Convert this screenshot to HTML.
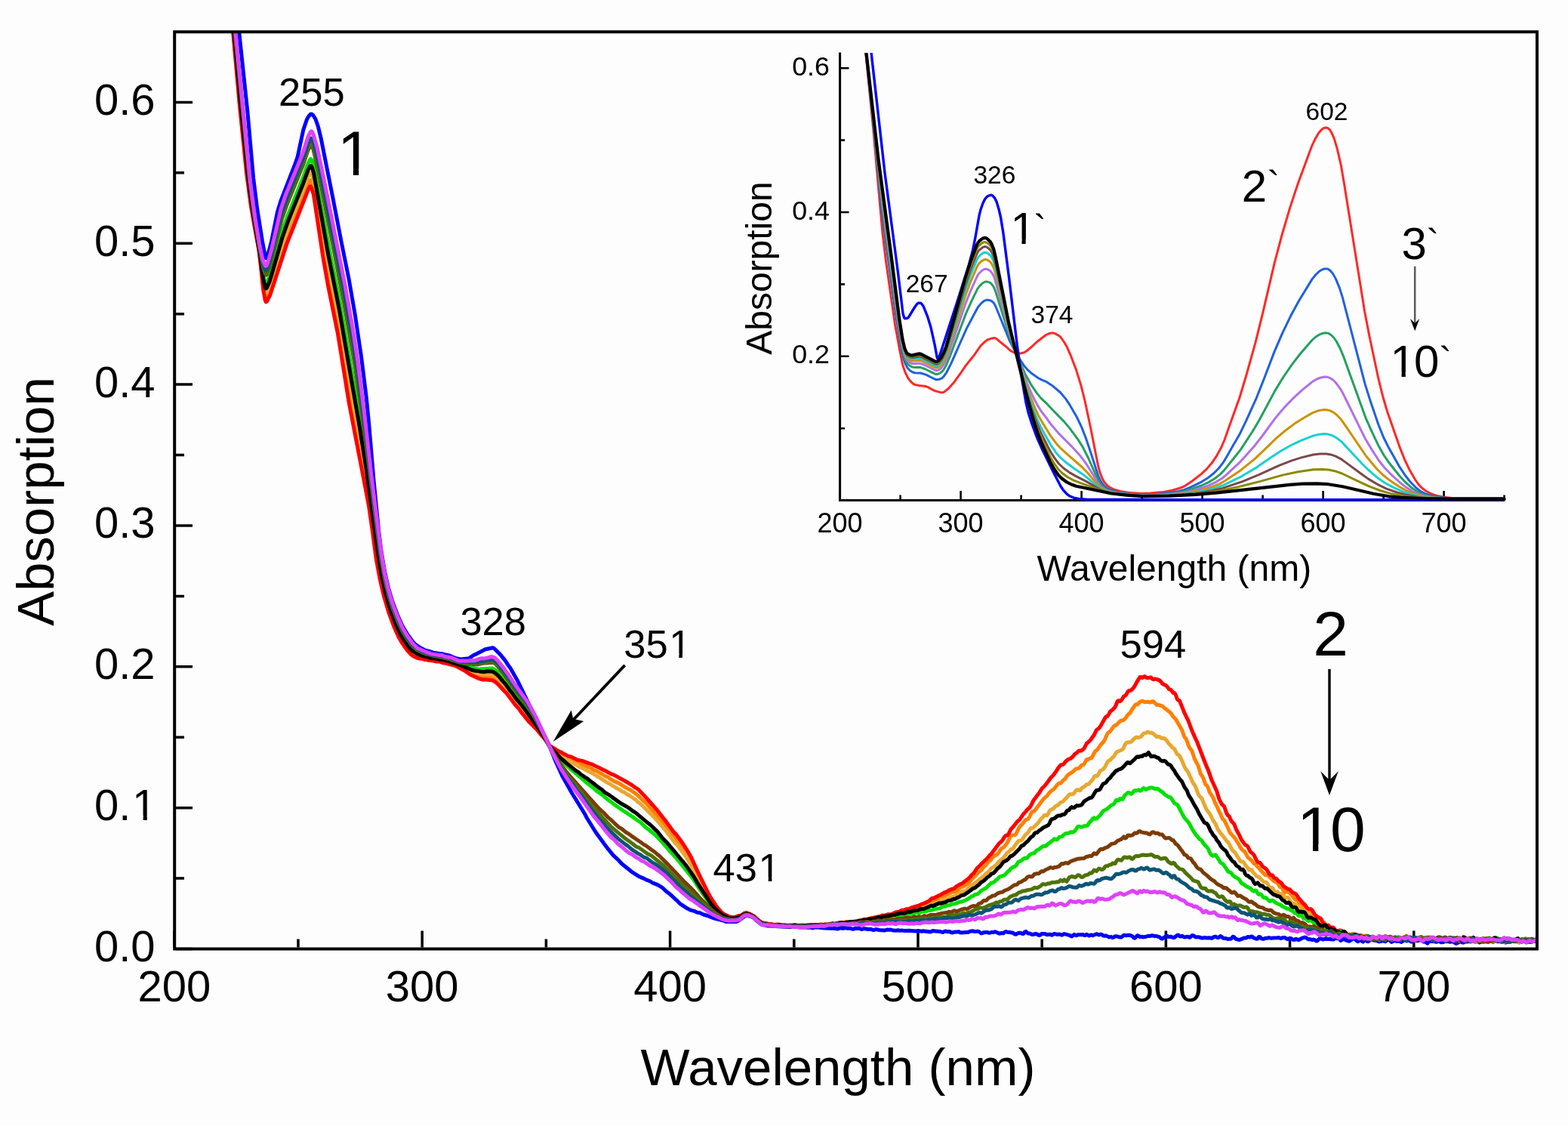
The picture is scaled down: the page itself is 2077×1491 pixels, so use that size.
<!DOCTYPE html>
<html><head><meta charset="utf-8"><title>Absorption spectra</title>
<style>
html,body{margin:0;padding:0;background:#fdfdfd;}
svg{display:block;}
text{font-family:"Liberation Sans",Arial,sans-serif;fill:#000;}
</style></head><body>
<svg width="2077" height="1491" viewBox="0 0 2077 1491">
<rect x="0" y="0" width="2077" height="1491" fill="#fdfdfd"/>
<defs><clipPath id="cm"><rect x="233" y="44" width="1801" height="1211"/></clipPath><clipPath id="ci"><rect x="1113" y="70" width="900" height="620"/></clipPath></defs>
<g stroke="#000" fill="none">
<path stroke-width="3.5" d="M233 1256.5H255.0M233 1163.1H244.0M233 1069.7H255.0M233 976.2H244.0M233 882.8H255.0M233 789.4H244.0M233 695.9H255.0M233 602.5H244.0M233 509.1H255.0M233 415.7H244.0M233 322.2H255.0M233 228.8H244.0M233 135.4H255.0M230.8 1254.5V1232.5M395.0 1254.5V1243.5M559.2 1254.5V1232.5M723.4 1254.5V1243.5M887.6 1254.5V1232.5M1051.8 1254.5V1243.5M1216.0 1254.5V1232.5M1380.2 1254.5V1243.5M1544.4 1254.5V1232.5M1708.6 1254.5V1243.5M1872.8 1254.5V1232.5"/>
</g>
<g clip-path="url(#cm)" fill="none" stroke-width="5" stroke-linejoin="round" stroke-linecap="round">
<path stroke="#0000ff" d="M293.2 -269.2L300.4 -140.4L306.3 -64.5L317.2 47.2L328.0 149.3L335.6 235.7L340.8 277.5L347.4 318.9L351.3 340.0L352.3 341.9L353.3 341.0L356.2 332.6L359.5 320.0L367.4 281.1L372.3 265.1L390.7 217.7L394.0 208.4L401.9 171.6L406.5 158.0L409.1 153.7L411.4 151.2L412.7 150.9L414.7 152.5L418.0 157.8L421.6 168.3L425.2 183.3L432.8 221.5L441.0 262.5L452.5 322.1L462.3 370.6L470.5 418.0L478.7 473.5L485.3 526.6L488.6 560.4L495.2 638.0L501.7 703.5L505.0 730.0L509.9 758.4L514.9 780.0L519.8 796.4L526.4 813.9L532.9 828.5L539.5 839.6L546.1 848.8L549.3 852.4L555.9 857.2L562.5 860.8L570.7 863.0L574.0 864.2L580.5 865.3L582.2 865.7L585.5 865.5L588.8 866.6L595.3 868.0L598.6 869.6L605.2 872.0L610.1 873.0L620.0 872.1L621.6 871.5L626.5 868.1L631.4 865.7L642.9 859.7L652.8 857.7L654.4 858.5L662.6 866.6L669.2 874.7L672.5 879.9L675.8 884.3L685.6 901.5L695.5 921.8L723.4 978.9L726.7 985.1L734.9 1005.6L744.7 1027.3L757.9 1050.7L774.3 1077.2L777.6 1083.5L789.1 1102.0L800.6 1117.8L805.5 1124.2L812.1 1132.3L818.6 1138.3L823.6 1143.7L836.7 1154.3L846.5 1160.7L853.1 1163.3L856.4 1165.2L861.3 1167.0L864.6 1169.1L871.2 1171.7L877.7 1175.7L882.7 1180.4L887.6 1184.1L894.2 1190.3L897.5 1193.2L900.7 1196.6L910.6 1203.1L915.5 1205.4L920.4 1206.7L923.7 1208.2L927.0 1208.8L931.9 1211.0L936.9 1212.5L945.1 1215.8L953.3 1217.8L958.2 1219.0L961.5 1220.4L966.4 1220.2L969.7 1220.5L973.0 1220.3L974.6 1220.4L976.3 1220.2L979.6 1218.3L987.8 1212.2L989.4 1212.1L994.3 1213.7L996.0 1213.8L997.6 1214.7L1002.5 1219.3L1007.5 1223.4L1009.1 1224.2L1015.7 1225.6L1017.3 1226.0L1020.6 1225.9L1030.5 1226.8L1035.4 1226.9L1040.3 1227.3L1046.9 1227.5L1053.4 1227.2L1060.0 1228.1L1064.9 1227.8L1069.9 1228.3L1073.1 1227.9L1076.4 1228.9L1079.7 1227.8L1087.9 1228.5L1092.8 1229.0L1099.4 1229.2L1102.7 1229.0L1109.3 1230.0L1112.6 1229.1L1114.2 1228.9L1115.8 1229.3L1117.5 1229.3L1119.1 1228.7L1120.8 1228.8L1122.4 1229.3L1125.7 1229.0L1129.0 1230.2L1130.6 1230.2L1133.9 1229.1L1135.5 1229.4L1138.8 1229.5L1140.5 1230.4L1142.1 1230.4L1143.8 1229.8L1145.4 1229.7L1150.3 1230.5L1153.6 1230.2L1156.9 1231.6L1160.2 1230.5L1165.1 1231.5L1171.7 1232.1L1175.0 1231.0L1178.2 1231.2L1179.9 1231.0L1183.2 1232.1L1186.4 1232.2L1189.7 1231.7L1191.4 1232.3L1194.7 1231.9L1197.9 1232.6L1204.5 1232.2L1212.7 1233.0L1216.0 1232.6L1220.9 1233.2L1222.6 1232.8L1232.4 1234.0L1235.7 1232.6L1239.0 1232.9L1245.6 1233.5L1248.8 1234.6L1252.1 1233.0L1255.4 1233.7L1257.0 1233.5L1258.7 1233.8L1260.3 1234.8L1262.0 1234.9L1263.6 1234.2L1270.2 1233.8L1271.8 1234.7L1273.5 1235.1L1280.0 1234.5L1281.7 1234.6L1285.0 1233.2L1288.2 1232.8L1291.5 1233.6L1294.8 1233.1L1296.5 1233.4L1299.7 1235.9L1301.4 1235.6L1303.0 1234.7L1306.3 1234.4L1308.0 1234.5L1309.6 1235.3L1311.2 1235.2L1312.9 1234.5L1316.2 1234.5L1317.8 1233.8L1319.4 1234.2L1322.7 1235.8L1324.4 1236.2L1326.0 1235.6L1329.3 1235.8L1330.9 1234.3L1332.6 1233.5L1334.2 1234.2L1337.5 1234.4L1339.1 1234.9L1340.8 1234.9L1342.4 1235.6L1344.1 1237.0L1345.7 1237.2L1349.0 1235.4L1350.6 1235.2L1352.3 1235.5L1353.9 1236.5L1355.6 1236.5L1357.2 1234.2L1358.9 1233.4L1360.5 1235.1L1362.1 1235.9L1363.8 1236.0L1367.1 1237.6L1368.7 1237.5L1370.3 1236.7L1372.0 1236.4L1376.9 1238.6L1380.2 1236.4L1383.5 1236.4L1386.8 1237.7L1390.1 1237.2L1391.7 1237.5L1393.3 1238.3L1396.6 1236.4L1399.9 1237.4L1403.2 1237.0L1406.5 1238.2L1409.8 1236.6L1416.3 1238.4L1419.6 1239.9L1422.9 1237.4L1424.5 1238.4L1426.2 1238.7L1427.8 1237.7L1431.1 1237.8L1434.4 1237.5L1436.0 1238.4L1437.7 1238.4L1439.3 1237.2L1442.6 1239.1L1444.2 1238.2L1445.9 1238.1L1447.5 1238.8L1452.4 1236.7L1455.7 1238.0L1457.4 1237.2L1459.0 1237.3L1460.7 1238.6L1462.3 1239.2L1465.6 1239.1L1468.9 1240.9L1472.2 1240.6L1473.8 1241.5L1475.4 1241.1L1477.1 1239.7L1478.7 1239.7L1483.6 1241.1L1485.3 1241.1L1488.6 1238.3L1491.9 1238.7L1495.1 1238.3L1498.4 1238.9L1500.1 1239.9L1501.7 1241.7L1503.3 1242.3L1506.6 1238.8L1508.3 1239.1L1509.9 1240.5L1513.2 1240.5L1514.8 1240.9L1518.1 1240.2L1521.4 1239.3L1523.1 1239.5L1526.3 1238.7L1529.6 1239.7L1531.3 1239.4L1536.2 1240.9L1537.8 1242.6L1539.5 1243.2L1541.1 1241.8L1542.8 1241.0L1544.4 1239.6L1546.0 1239.3L1547.7 1240.6L1551.0 1240.2L1554.3 1241.6L1555.9 1241.2L1559.2 1238.5L1560.8 1238.1L1562.5 1239.8L1564.1 1240.1L1565.7 1239.2L1569.0 1241.1L1572.3 1240.3L1574.0 1240.5L1575.6 1241.4L1577.2 1240.6L1578.9 1238.8L1580.5 1238.7L1583.8 1240.9L1587.1 1240.7L1592.0 1242.0L1593.7 1242.1L1595.3 1241.6L1598.6 1242.0L1601.9 1241.7L1605.2 1242.4L1608.4 1240.5L1610.1 1240.2L1613.4 1241.8L1615.0 1240.9L1616.6 1239.5L1618.3 1240.4L1619.9 1242.2L1623.2 1242.4L1626.5 1243.5L1628.1 1243.2L1629.8 1243.3L1631.4 1242.3L1633.1 1240.3L1634.7 1240.7L1636.4 1242.8L1638.0 1243.7L1641.3 1244.6L1646.2 1242.8L1647.8 1241.9L1651.1 1241.9L1652.8 1240.5L1656.1 1241.0L1657.7 1239.9L1659.3 1240.6L1661.0 1242.2L1664.3 1243.2L1665.9 1243.0L1667.5 1240.6L1669.2 1240.8L1670.8 1242.7L1672.5 1243.3L1674.1 1243.3L1675.8 1242.3L1679.0 1242.3L1680.7 1241.6L1684.0 1242.4L1685.6 1242.1L1692.2 1241.7L1693.8 1241.5L1695.5 1242.3L1697.1 1242.5L1698.7 1241.7L1700.4 1241.4L1702.0 1241.6L1705.3 1243.6L1708.6 1242.3L1710.2 1242.7L1713.5 1244.6L1715.2 1244.2L1716.8 1243.2L1720.1 1244.7L1723.4 1243.0L1725.0 1242.1L1728.3 1241.1L1729.9 1241.5L1731.6 1242.9L1733.2 1243.7L1734.9 1243.6L1738.2 1244.7L1739.8 1244.1L1741.4 1244.4L1743.1 1245.7L1744.7 1246.1L1748.0 1242.7L1752.9 1244.0L1756.2 1242.9L1757.9 1243.6L1761.1 1243.2L1762.8 1243.8L1766.1 1244.1L1769.4 1242.4L1771.0 1242.7L1772.6 1242.4L1774.3 1243.5L1775.9 1245.6L1777.6 1244.6L1779.2 1243.0L1780.8 1243.6L1782.5 1244.8L1785.8 1246.0L1787.4 1246.2L1792.3 1242.9L1794.0 1243.2L1795.6 1244.2L1797.3 1245.9L1798.9 1246.7L1800.6 1245.0L1802.2 1244.1L1803.8 1246.1L1805.5 1247.1L1807.1 1245.2L1808.8 1244.7L1810.4 1246.1L1812.0 1246.7L1813.7 1245.8L1815.3 1244.1L1817.0 1243.7L1820.3 1245.2L1823.5 1245.5L1826.8 1246.9L1830.1 1246.2L1831.7 1245.7L1833.4 1246.0L1835.0 1246.7L1838.3 1244.2L1840.0 1244.3L1843.2 1247.5L1844.9 1246.6L1846.5 1245.1L1849.8 1246.4L1853.1 1246.1L1856.4 1247.5L1858.0 1246.5L1859.7 1244.4L1861.3 1244.0L1862.9 1245.5L1864.6 1245.7L1866.2 1244.9L1869.5 1247.1L1871.2 1246.2L1872.8 1244.6L1874.4 1244.4L1876.1 1245.4L1877.7 1245.8L1881.0 1245.0L1882.7 1245.1L1885.9 1247.0L1887.6 1247.0L1890.9 1249.2L1892.5 1247.0L1894.1 1245.8L1895.8 1246.5L1897.4 1246.6L1899.1 1246.2L1902.4 1247.3L1905.6 1246.1L1908.9 1247.7L1912.2 1247.4L1915.5 1244.6L1917.1 1245.1L1918.8 1246.5L1920.4 1247.3L1923.7 1246.7L1925.3 1247.2L1928.6 1249.4L1931.9 1247.9L1933.6 1246.8L1935.2 1246.3L1936.8 1247.9L1938.5 1248.2L1940.1 1247.1L1943.4 1247.1L1945.0 1246.5L1948.3 1246.9L1950.0 1245.5L1951.6 1245.3L1953.3 1247.1L1954.9 1247.0L1956.5 1246.1L1959.8 1248.0L1963.1 1246.7L1964.8 1247.2L1968.0 1246.6L1969.7 1247.0L1973.0 1245.5L1974.6 1245.2L1977.9 1247.4L1981.2 1245.5L1984.5 1246.8L1986.1 1246.3L1989.4 1247.3L1991.0 1246.7L1994.3 1248.1L1995.9 1247.4L2000.9 1246.9L2004.2 1246.2L2005.8 1246.3L2007.4 1245.9L2010.7 1247.0L2014.0 1246.0L2015.7 1246.2L2018.9 1244.7L2022.2 1247.9L2025.5 1247.2L2028.8 1247.1L2032.1 1245.6L2035.4 1246.6L2037.0 1246.4"/>
<path stroke="#ff8000" d="M293.2 -172.6L299.1 -77.7L306.7 16.9L317.8 139.2L327.0 229.2L332.9 273.4L337.9 302.2L343.4 333.4L348.7 379.4L351.3 392.7L352.3 394.5L353.6 393.4L358.2 383.4L376.6 324.6L385.1 301.5L402.6 257.9L407.8 244.3L410.4 239.0L411.4 238.5L412.7 240.4L415.4 248.9L431.1 347.0L439.3 389.0L447.5 429.5L455.8 479.5L464.0 528.3L487.0 652.8L491.9 684.7L498.4 734.0L503.4 762.4L508.3 784.6L513.2 802.5L519.8 821.6L526.4 837.3L531.3 846.9L539.5 859.1L544.4 864.5L547.7 867.2L551.0 868.7L565.8 873.0L569.1 873.1L572.3 873.9L577.3 874.1L592.0 877.4L606.8 882.3L608.5 882.6L615.0 885.9L620.0 889.2L629.8 893.8L636.4 895.9L639.7 896.3L642.9 897.1L649.5 897.1L652.8 897.7L656.1 899.1L657.7 900.5L672.5 917.0L679.1 926.1L687.3 935.8L690.6 940.3L693.8 943.8L698.8 950.6L707.0 960.4L715.2 969.7L721.8 978.1L726.7 986.2L728.3 987.7L731.6 989.7L738.2 995.1L743.1 997.4L746.4 1000.5L754.6 1004.7L766.1 1010.6L772.7 1013.2L779.2 1015.9L782.5 1016.9L785.8 1019.4L790.7 1021.1L802.2 1027.9L805.5 1029.3L808.8 1031.7L812.1 1033.5L813.7 1034.6L820.3 1037.4L826.8 1041.7L836.7 1047.0L844.9 1053.2L853.1 1061.2L856.4 1064.0L872.8 1082.8L882.7 1094.6L886.0 1099.3L889.2 1103.0L892.5 1107.7L897.5 1113.4L904.0 1122.2L908.9 1129.7L912.2 1134.3L922.1 1153.4L930.3 1169.9L941.8 1190.9L951.6 1204.3L954.9 1207.6L958.2 1210.3L961.5 1212.2L963.1 1213.5L966.4 1214.5L969.7 1214.3L973.0 1214.8L981.2 1212.7L987.8 1208.7L989.4 1208.9L997.6 1212.7L1005.8 1219.5L1009.1 1221.5L1015.7 1223.3L1020.6 1224.0L1023.9 1224.7L1033.7 1224.6L1040.3 1225.4L1045.2 1225.4L1050.2 1225.5L1053.4 1224.8L1060.0 1226.0L1064.9 1225.4L1069.9 1225.1L1071.5 1224.9L1074.8 1225.5L1078.1 1225.1L1083.0 1225.7L1084.6 1225.4L1086.3 1224.4L1087.9 1224.0L1089.6 1224.3L1092.8 1224.3L1094.5 1224.6L1101.1 1223.5L1102.7 1223.8L1106.0 1223.2L1107.6 1223.3L1112.6 1222.4L1115.8 1222.3L1117.5 1222.4L1120.8 1220.4L1124.0 1220.9L1125.7 1221.3L1130.6 1220.3L1132.3 1219.8L1137.2 1219.8L1140.5 1218.7L1142.1 1218.6L1145.4 1217.4L1148.7 1217.8L1153.6 1215.3L1156.9 1216.0L1161.8 1214.6L1165.1 1213.4L1168.4 1213.1L1170.0 1212.4L1173.3 1212.3L1178.2 1211.6L1181.5 1210.7L1184.8 1210.6L1186.4 1209.6L1188.1 1208.2L1189.7 1207.4L1194.7 1207.1L1197.9 1206.3L1201.2 1205.8L1204.5 1204.6L1207.8 1203.4L1211.1 1202.0L1219.3 1200.0L1224.2 1197.3L1227.5 1197.0L1235.7 1193.1L1237.3 1192.0L1240.6 1190.9L1242.3 1189.6L1243.9 1188.7L1247.2 1187.7L1250.5 1186.0L1255.4 1184.4L1260.3 1181.6L1262.0 1181.0L1265.3 1181.0L1270.2 1176.9L1271.8 1175.4L1275.1 1174.2L1281.7 1170.3L1288.2 1163.2L1293.2 1158.5L1296.5 1154.6L1299.7 1152.4L1303.0 1148.1L1306.3 1145.2L1308.0 1142.6L1309.6 1140.8L1311.2 1139.8L1312.9 1138.0L1314.5 1135.5L1317.8 1133.0L1321.1 1131.2L1322.7 1129.3L1324.4 1126.4L1326.0 1124.2L1329.3 1122.2L1332.6 1118.3L1334.2 1116.1L1337.5 1109.4L1339.1 1106.9L1340.8 1106.1L1344.1 1105.6L1345.7 1104.6L1349.0 1097.7L1350.6 1095.0L1355.6 1089.6L1357.2 1087.3L1358.9 1085.6L1360.5 1085.1L1362.1 1084.1L1363.8 1081.5L1365.4 1077.8L1367.1 1075.1L1370.3 1073.7L1381.8 1058.4L1386.8 1053.9L1390.1 1049.5L1393.3 1046.5L1395.0 1045.7L1396.6 1044.2L1398.3 1041.9L1401.5 1038.0L1403.2 1036.9L1404.8 1037.0L1406.5 1035.6L1408.1 1033.5L1409.8 1032.3L1411.4 1030.5L1413.0 1027.9L1414.7 1026.2L1421.2 1021.9L1424.5 1018.5L1426.2 1017.8L1427.8 1017.8L1429.5 1017.0L1432.7 1013.3L1434.4 1012.9L1436.0 1011.7L1439.3 1005.8L1441.0 1005.7L1444.2 1004.0L1445.9 1003.7L1450.8 994.7L1454.1 992.2L1457.4 987.0L1462.3 981.5L1463.9 978.4L1465.6 974.2L1467.2 971.1L1470.5 968.6L1475.4 961.6L1477.1 960.6L1478.7 960.1L1483.6 955.1L1485.3 953.9L1486.9 953.9L1488.6 953.4L1491.9 949.8L1493.5 946.9L1495.1 945.3L1496.8 944.3L1500.1 938.5L1501.7 936.7L1503.3 933.8L1505.0 932.7L1506.6 932.9L1509.9 929.5L1511.6 928.7L1513.2 928.3L1516.5 929.8L1521.4 929.2L1523.1 930.0L1524.7 929.7L1526.3 928.7L1528.0 928.8L1531.3 932.7L1532.9 933.5L1534.5 933.3L1539.5 934.8L1542.8 937.8L1546.0 940.1L1547.7 941.7L1549.3 942.7L1551.0 944.5L1554.3 949.3L1557.5 952.6L1565.7 966.8L1569.0 976.0L1570.7 977.7L1572.3 981.4L1574.0 986.3L1575.6 989.9L1578.9 994.2L1582.2 1004.5L1587.1 1013.8L1590.4 1024.9L1592.0 1027.0L1593.7 1029.9L1596.9 1038.7L1598.6 1040.0L1600.2 1042.9L1601.9 1047.9L1603.5 1051.0L1606.8 1055.8L1610.1 1064.3L1611.7 1067.0L1615.0 1074.7L1616.6 1077.7L1618.3 1081.9L1619.9 1084.9L1621.6 1085.9L1626.5 1096.1L1628.1 1100.2L1629.8 1103.2L1636.4 1110.6L1638.0 1113.7L1641.3 1118.6L1642.9 1121.8L1644.6 1124.2L1646.2 1125.9L1647.8 1127.0L1649.5 1128.9L1652.8 1135.1L1657.7 1139.3L1661.0 1143.5L1662.6 1144.0L1665.9 1147.9L1667.5 1149.2L1670.8 1153.5L1675.8 1158.6L1677.4 1158.9L1679.0 1158.6L1680.7 1160.1L1682.3 1162.3L1684.0 1163.5L1687.3 1166.8L1692.2 1168.9L1695.5 1174.4L1697.1 1174.8L1698.7 1176.5L1700.4 1179.8L1702.0 1181.8L1703.7 1180.7L1705.3 1180.3L1707.0 1181.7L1708.6 1182.6L1710.2 1184.0L1715.2 1190.7L1716.8 1191.8L1718.5 1192.0L1721.7 1196.7L1723.4 1197.5L1726.7 1200.6L1728.3 1201.5L1731.6 1206.3L1734.9 1206.4L1736.5 1208.8L1738.2 1210.0L1739.8 1210.2L1743.1 1215.2L1744.7 1216.5L1746.4 1216.7L1748.0 1218.0L1749.6 1220.7L1751.3 1222.1L1752.9 1221.5L1754.6 1222.0L1757.9 1226.0L1761.1 1226.9L1764.4 1230.0L1767.7 1231.5L1769.4 1232.7L1771.0 1232.7L1774.3 1233.9L1777.6 1236.2L1779.2 1236.1L1780.8 1235.6L1782.5 1235.6L1784.1 1236.5L1785.8 1238.9L1787.4 1239.8L1790.7 1236.9L1792.3 1236.2L1795.6 1239.5L1797.3 1239.7L1798.9 1241.0L1800.6 1240.7L1802.2 1238.4L1803.8 1238.7L1805.5 1239.7L1808.8 1239.1L1810.4 1239.7L1812.0 1240.8L1813.7 1242.8L1815.3 1243.0L1817.0 1240.6L1818.6 1239.8L1821.9 1241.7L1823.5 1242.4L1825.2 1242.2L1826.8 1240.9L1828.5 1240.8L1830.1 1241.4L1833.4 1241.0L1835.0 1241.1L1838.3 1243.0L1841.6 1240.5L1843.2 1242.1L1844.9 1242.6L1846.5 1241.4L1848.2 1241.0L1851.5 1243.7L1853.1 1243.6L1854.7 1244.1L1856.4 1243.9L1858.0 1242.8L1859.7 1242.5L1862.9 1239.1L1864.6 1240.3L1867.9 1243.8L1869.5 1244.5L1874.4 1244.7L1877.7 1244.1L1881.0 1245.6L1882.7 1244.9L1884.3 1243.4L1887.6 1241.8L1889.2 1242.0L1892.5 1243.5L1894.1 1243.3L1895.8 1241.3L1897.4 1241.3L1899.1 1243.6L1900.7 1244.5L1902.4 1244.6L1904.0 1245.5L1905.6 1244.8L1907.3 1243.2L1910.6 1243.6L1912.2 1243.4L1913.8 1244.0L1918.8 1244.5L1922.1 1243.6L1923.7 1242.7L1925.3 1242.5L1927.0 1242.7L1931.9 1245.4L1933.6 1245.7L1935.2 1244.1L1936.8 1243.8L1938.5 1244.3L1940.1 1243.9L1943.4 1244.1L1945.0 1243.4L1948.3 1244.8L1950.0 1243.2L1951.6 1243.1L1954.9 1246.2L1956.5 1247.0L1958.2 1246.1L1959.8 1244.6L1961.5 1244.9L1963.1 1245.8L1966.4 1243.3L1968.0 1244.2L1969.7 1244.5L1971.3 1243.2L1973.0 1243.4L1977.9 1246.9L1979.5 1246.6L1984.5 1244.1L1986.1 1243.8L1987.7 1244.1L1989.4 1244.8L1991.0 1246.6L1992.7 1247.5L1995.9 1246.2L1999.2 1246.0L2000.9 1246.7L2002.5 1246.5L2004.2 1245.4L2005.8 1245.1L2007.4 1245.2L2009.1 1244.9L2012.4 1246.0L2015.7 1243.5L2017.3 1244.2L2018.9 1243.6L2020.6 1242.5L2023.9 1244.2L2025.5 1243.6L2027.1 1244.2L2028.8 1245.5L2032.1 1244.7L2033.7 1245.0L2035.4 1244.8L2037.0 1244.2"/>
<path stroke="#e8a830" d="M293.2 -175.1L299.4 -76.9L307.0 16.2L318.8 143.4L327.7 229.9L333.6 274.6L339.5 308.9L344.4 338.6L348.7 374.2L351.3 386.4L352.3 387.9L353.6 386.8L358.2 376.1L374.6 320.9L383.2 297.1L402.2 249.6L407.8 234.6L410.4 229.2L411.4 228.6L412.7 230.1L415.4 238.1L432.8 340.6L449.2 423.0L462.3 501.7L478.7 593.3L487.0 642.6L493.5 688.9L498.4 725.7L505.0 764.6L509.9 786.3L514.9 803.8L521.4 822.3L528.0 837.6L532.9 846.6L541.1 858.6L546.1 863.8L551.0 866.8L552.6 867.6L555.9 868.2L559.2 870.0L565.8 871.0L569.1 872.0L575.6 872.9L578.9 874.0L583.8 874.6L587.1 874.7L592.0 876.4L597.0 877.4L603.5 880.5L608.5 881.8L613.4 883.7L618.3 886.5L621.6 887.9L624.9 888.9L626.5 889.9L634.7 892.0L639.7 892.8L647.9 892.6L652.8 893.4L656.1 895.2L659.4 898.2L669.2 908.8L685.6 930.6L688.9 934.2L698.8 947.1L707.0 957.3L721.8 977.3L726.7 986.0L733.3 992.2L741.5 998.7L753.0 1006.6L761.2 1011.8L764.5 1013.4L767.7 1015.7L771.0 1016.9L777.6 1020.7L782.5 1022.7L790.7 1027.5L794.0 1029.5L798.9 1032.8L802.2 1034.9L805.5 1036.8L808.8 1038.5L810.4 1039.9L813.7 1041.6L817.0 1043.8L820.3 1045.2L823.6 1047.8L826.8 1049.0L830.1 1051.6L833.4 1053.1L840.0 1057.7L841.6 1058.5L844.9 1061.9L848.2 1064.1L853.1 1068.9L864.6 1080.3L871.2 1087.3L882.7 1100.8L890.9 1111.8L894.2 1116.2L897.5 1119.5L907.3 1132.5L918.8 1151.3L930.3 1172.9L945.1 1197.9L950.0 1203.8L956.6 1210.1L961.5 1213.1L969.7 1215.4L971.3 1215.5L976.3 1214.8L982.8 1212.4L987.8 1209.2L989.4 1209.0L992.7 1210.6L997.6 1213.1L1004.2 1218.6L1007.5 1221.7L1015.7 1223.5L1020.6 1224.1L1028.8 1225.1L1033.7 1224.6L1040.3 1225.6L1045.2 1225.1L1053.4 1225.4L1060.0 1225.5L1064.9 1225.6L1068.2 1225.9L1071.5 1224.8L1074.8 1225.7L1078.1 1224.9L1083.0 1225.0L1086.3 1224.0L1089.6 1224.9L1096.1 1223.8L1099.4 1224.2L1102.7 1223.6L1106.0 1223.9L1110.9 1223.2L1112.6 1223.2L1115.8 1222.5L1119.1 1222.5L1122.4 1221.8L1124.0 1222.1L1127.3 1221.6L1130.6 1220.3L1133.9 1220.2L1138.8 1218.4L1142.1 1219.2L1143.8 1218.9L1145.4 1218.1L1152.0 1217.5L1155.2 1216.5L1161.8 1215.6L1165.1 1214.4L1168.4 1214.0L1171.7 1214.6L1175.0 1213.2L1179.9 1212.9L1183.2 1211.2L1184.8 1210.7L1186.4 1211.0L1191.4 1209.5L1193.0 1208.8L1196.3 1208.8L1197.9 1207.8L1199.6 1207.4L1201.2 1207.4L1206.1 1205.8L1209.4 1205.9L1214.4 1202.9L1216.0 1202.6L1219.3 1202.8L1227.5 1201.0L1232.4 1197.4L1235.7 1197.2L1240.6 1196.2L1242.3 1195.3L1243.9 1193.9L1245.6 1193.3L1247.2 1193.3L1250.5 1191.2L1253.8 1190.3L1255.4 1190.1L1257.0 1189.5L1260.3 1187.6L1262.0 1187.6L1263.6 1186.9L1273.5 1181.0L1276.8 1180.1L1278.4 1179.9L1280.0 1178.9L1285.0 1173.5L1286.6 1172.3L1288.2 1171.7L1293.2 1167.9L1294.8 1166.9L1299.7 1162.6L1303.0 1159.8L1308.0 1155.2L1309.6 1154.2L1312.9 1150.0L1319.4 1145.7L1322.7 1141.2L1324.4 1140.0L1327.7 1137.1L1329.3 1135.8L1334.2 1129.2L1335.9 1128.3L1339.1 1124.6L1340.8 1124.7L1342.4 1123.0L1344.1 1119.9L1349.0 1113.6L1350.6 1113.1L1352.3 1113.1L1353.9 1111.9L1357.2 1107.0L1358.9 1104.9L1362.1 1102.1L1363.8 1099.0L1365.4 1096.8L1368.7 1096.1L1375.3 1089.5L1378.6 1084.7L1381.8 1081.6L1383.5 1079.4L1385.1 1079.3L1386.8 1079.9L1388.4 1077.6L1390.1 1074.3L1391.7 1072.3L1395.0 1070.9L1398.3 1067.5L1401.5 1066.1L1404.8 1062.5L1408.1 1061.4L1409.8 1059.2L1413.0 1056.1L1416.3 1052.2L1418.0 1051.6L1419.6 1051.8L1421.2 1051.7L1422.9 1050.2L1424.5 1047.6L1426.2 1046.0L1427.8 1045.6L1429.5 1046.7L1431.1 1046.5L1432.7 1043.7L1434.4 1042.4L1436.0 1042.0L1439.3 1038.9L1442.6 1037.8L1444.2 1035.6L1445.9 1034.2L1447.5 1032.2L1449.2 1028.8L1450.8 1027.3L1452.4 1027.7L1454.1 1026.9L1457.4 1020.6L1460.7 1018.9L1462.3 1017.4L1463.9 1015.1L1467.2 1008.6L1468.9 1007.2L1470.5 1006.6L1473.8 1002.8L1475.4 1001.8L1478.7 996.3L1480.4 995.2L1486.9 992.5L1488.6 989.8L1490.2 986.0L1491.9 983.6L1493.5 983.0L1496.8 982.8L1498.4 982.2L1501.7 978.8L1505.0 976.3L1508.3 976.8L1511.6 975.2L1514.8 971.3L1518.1 970.6L1519.8 969.3L1521.4 969.5L1523.1 970.4L1524.7 970.1L1526.3 970.7L1529.6 973.1L1531.3 975.1L1532.9 975.8L1534.5 975.4L1536.2 975.7L1537.8 977.1L1539.5 977.8L1541.1 977.5L1542.8 978.0L1546.0 981.3L1547.7 984.0L1549.3 986.0L1551.0 987.3L1552.6 989.6L1555.9 992.1L1559.2 998.7L1560.8 999.5L1562.5 1000.9L1565.7 1007.4L1569.0 1015.4L1570.7 1018.5L1572.3 1020.3L1574.0 1022.8L1580.5 1037.1L1582.2 1039.1L1583.8 1042.3L1587.1 1051.2L1588.7 1054.0L1592.0 1057.2L1596.9 1069.2L1598.6 1072.6L1601.9 1076.7L1605.2 1082.7L1606.8 1086.3L1610.1 1090.8L1613.4 1098.8L1615.0 1100.5L1616.6 1103.2L1619.9 1106.8L1624.9 1113.8L1626.5 1115.0L1628.1 1117.3L1631.4 1124.4L1633.1 1126.6L1634.7 1127.6L1636.4 1129.6L1638.0 1132.5L1641.3 1137.4L1642.9 1140.4L1644.6 1141.1L1646.2 1140.7L1647.8 1142.5L1649.5 1145.4L1652.8 1149.1L1654.4 1151.9L1657.7 1151.6L1659.3 1154.4L1661.0 1156.4L1662.6 1157.8L1664.3 1160.0L1667.5 1161.3L1672.5 1166.4L1674.1 1167.6L1677.4 1168.5L1679.0 1170.3L1680.7 1173.8L1682.3 1176.1L1684.0 1175.3L1685.6 1175.7L1688.9 1181.5L1692.2 1181.0L1693.8 1182.7L1695.5 1183.9L1697.1 1183.6L1698.7 1184.1L1702.0 1188.0L1703.7 1188.6L1705.3 1188.2L1707.0 1189.4L1710.2 1195.3L1713.5 1196.1L1715.2 1197.1L1718.5 1198.7L1721.7 1201.0L1725.0 1205.1L1728.3 1205.3L1729.9 1208.2L1731.6 1209.7L1733.2 1209.6L1734.9 1211.6L1736.5 1214.2L1738.2 1215.4L1741.4 1214.6L1743.1 1215.9L1748.0 1221.8L1751.3 1224.1L1752.9 1224.5L1754.6 1224.3L1757.9 1227.3L1759.5 1227.8L1762.8 1231.1L1766.1 1232.7L1769.4 1232.4L1774.3 1234.5L1777.6 1236.9L1782.5 1237.9L1784.1 1237.7L1785.8 1238.5L1787.4 1240.4L1789.1 1240.9L1792.3 1238.5L1795.6 1237.9L1797.3 1237.9L1798.9 1238.9L1802.2 1241.9L1803.8 1242.3L1807.1 1241.0L1808.8 1241.0L1810.4 1241.4L1815.3 1241.3L1818.6 1241.9L1820.3 1243.1L1821.9 1243.3L1823.5 1242.1L1825.2 1241.8L1826.8 1242.6L1830.1 1240.8L1831.7 1242.2L1833.4 1242.9L1835.0 1242.9L1836.7 1243.4L1840.0 1240.3L1841.6 1240.5L1844.9 1241.7L1848.2 1241.8L1851.5 1243.2L1854.7 1241.7L1856.4 1241.7L1859.7 1243.9L1862.9 1239.5L1864.6 1240.7L1866.2 1243.0L1867.9 1243.8L1874.4 1242.8L1876.1 1241.8L1877.7 1242.3L1879.4 1244.3L1882.7 1244.4L1884.3 1245.2L1885.9 1244.6L1887.6 1243.3L1889.2 1243.1L1890.9 1243.8L1894.1 1240.6L1899.1 1243.7L1900.7 1244.3L1907.3 1240.4L1910.6 1242.1L1912.2 1242.6L1913.8 1244.7L1915.5 1245.6L1922.1 1242.9L1923.7 1241.5L1925.3 1241.2L1928.6 1243.6L1930.3 1243.1L1931.9 1243.3L1933.6 1244.4L1936.8 1243.0L1938.5 1242.7L1940.1 1241.8L1941.8 1242.5L1943.4 1244.2L1945.0 1244.8L1950.0 1244.3L1953.3 1242.9L1954.9 1243.2L1956.5 1244.6L1958.2 1244.9L1959.8 1243.4L1963.1 1242.9L1966.4 1242.7L1968.0 1242.2L1969.7 1242.6L1973.0 1244.8L1976.2 1244.4L1977.9 1244.8L1979.5 1244.4L1981.2 1243.4L1982.8 1243.7L1984.5 1245.6L1986.1 1245.8L1989.4 1244.1L1992.7 1244.7L1994.3 1244.6L1995.9 1243.8L1997.6 1243.7L2000.9 1245.6L2002.5 1246.0L2004.2 1244.8L2005.8 1244.2L2009.1 1245.1L2010.7 1247.3L2012.4 1248.4L2017.3 1245.3L2022.2 1244.7L2025.5 1247.2L2028.8 1244.9L2030.4 1246.5L2032.1 1245.8L2033.7 1243.7L2035.4 1244.5L2037.0 1245.8"/>
<path stroke="#ff0000" d="M293.2 -170.6L299.1 -74.7L307.0 24.3L317.5 140.6L326.4 227.8L331.9 269.6L336.9 298.9L342.8 330.4L345.4 351.8L348.7 383.7L351.3 397.9L352.3 399.8L353.6 398.9L357.9 390.3L379.9 322.9L391.1 294.7L407.8 252.2L410.4 246.9L411.4 246.7L412.7 248.8L415.4 257.7L427.8 339.9L434.4 377.6L447.5 442.1L455.8 493.2L462.3 533.6L482.0 635.6L488.6 670.5L493.5 704.3L498.4 740.8L503.4 767.7L508.3 788.7L514.9 811.0L521.4 828.7L528.0 843.4L532.9 851.9L539.5 861.2L544.4 866.7L547.7 868.9L552.6 871.3L555.9 872.0L559.2 872.3L562.5 873.4L565.8 873.7L567.4 874.3L574.0 875.1L577.3 875.9L580.5 875.7L583.8 876.7L587.1 877.9L592.0 878.6L597.0 880.1L601.9 881.1L606.8 883.6L616.7 888.9L623.2 893.4L634.7 898.6L639.7 900.1L644.6 900.1L652.8 901.1L656.1 903.0L659.4 905.7L670.9 918.1L682.3 933.1L687.3 938.6L690.6 943.2L700.4 955.4L710.3 965.2L716.8 973.1L721.8 978.8L726.7 986.2L728.3 987.6L733.3 990.5L739.8 994.7L743.1 996.0L748.0 998.8L753.0 1001.4L756.2 1002.0L764.5 1006.1L771.0 1007.4L780.9 1011.1L784.2 1011.9L787.4 1013.8L794.0 1016.7L797.3 1018.6L802.2 1020.7L805.5 1022.8L810.4 1025.2L813.7 1026.4L828.5 1034.5L838.3 1040.4L841.6 1042.9L844.9 1044.8L853.1 1053.3L859.7 1060.5L871.2 1073.7L882.7 1088.4L892.5 1101.9L895.8 1105.1L902.4 1113.9L910.6 1126.5L915.5 1135.1L923.7 1153.1L931.9 1170.2L940.1 1186.4L950.0 1201.5L954.9 1207.0L958.2 1210.0L964.8 1213.3L968.1 1214.4L973.0 1214.7L977.9 1212.8L981.2 1212.3L986.1 1209.2L987.8 1208.8L989.4 1208.8L992.7 1210.0L999.3 1213.5L1004.2 1218.1L1007.5 1221.0L1009.1 1221.7L1017.3 1223.2L1022.2 1223.8L1025.5 1224.5L1030.5 1224.1L1035.4 1224.7L1040.3 1224.9L1043.6 1225.6L1050.2 1225.1L1053.4 1224.7L1056.7 1225.6L1063.3 1225.2L1066.6 1225.6L1069.9 1225.0L1081.4 1224.6L1084.6 1225.2L1091.2 1224.6L1092.8 1224.0L1094.5 1224.1L1096.1 1224.8L1097.8 1224.8L1101.1 1224.0L1110.9 1223.0L1112.6 1222.0L1114.2 1221.7L1117.5 1222.7L1120.8 1221.8L1124.0 1221.7L1130.6 1220.9L1132.3 1221.0L1133.9 1220.6L1137.2 1219.2L1140.5 1219.3L1143.8 1217.6L1145.4 1217.3L1148.7 1217.3L1150.3 1216.8L1153.6 1216.8L1156.9 1215.1L1163.5 1214.0L1165.1 1213.9L1168.4 1212.1L1171.7 1212.4L1176.6 1210.7L1179.9 1211.0L1186.4 1208.0L1191.4 1207.2L1194.7 1205.2L1197.9 1204.9L1201.2 1203.7L1202.9 1203.7L1204.5 1203.2L1207.8 1201.7L1217.6 1199.0L1220.9 1197.1L1222.6 1196.8L1227.5 1194.5L1230.8 1192.9L1234.1 1189.7L1237.3 1189.0L1243.9 1185.6L1245.6 1185.1L1250.5 1182.0L1253.8 1181.0L1257.0 1178.9L1260.3 1177.5L1263.6 1176.7L1266.9 1173.6L1270.2 1171.9L1271.8 1170.8L1275.1 1169.5L1278.4 1166.6L1280.0 1165.6L1285.0 1161.4L1286.6 1158.9L1289.9 1156.3L1293.2 1151.0L1294.8 1149.1L1296.5 1147.8L1299.7 1144.2L1308.0 1136.2L1311.2 1132.4L1312.9 1130.9L1322.7 1117.7L1324.4 1115.9L1326.0 1114.8L1327.7 1113.1L1330.9 1107.6L1332.6 1106.2L1334.2 1106.3L1335.9 1104.3L1339.1 1098.0L1342.4 1094.5L1347.4 1088.0L1350.6 1085.4L1355.6 1077.9L1358.9 1074.6L1360.5 1072.3L1363.8 1069.3L1365.4 1067.1L1368.7 1060.3L1375.3 1051.5L1376.9 1049.4L1380.2 1044.0L1383.5 1041.0L1388.4 1034.7L1391.7 1030.0L1395.0 1026.8L1399.9 1020.1L1401.5 1017.2L1404.8 1013.3L1406.5 1012.4L1408.1 1012.4L1409.8 1010.8L1411.4 1008.5L1414.7 1005.6L1418.0 1004.5L1421.2 1001.7L1422.9 999.4L1424.5 997.9L1426.2 997.0L1427.8 995.1L1429.5 994.0L1431.1 994.3L1432.7 993.8L1436.0 991.1L1439.3 984.5L1444.2 980.3L1449.2 973.3L1452.4 966.7L1455.7 964.2L1457.4 962.1L1463.9 950.5L1465.6 948.6L1467.2 948.2L1468.9 945.6L1470.5 942.2L1473.8 939.8L1477.1 936.3L1480.4 928.3L1482.0 927.7L1483.6 928.6L1485.3 927.5L1488.6 922.1L1490.2 921.4L1491.9 919.7L1493.5 916.5L1495.1 914.7L1498.4 914.0L1501.7 910.4L1503.3 908.0L1505.0 904.6L1509.9 896.6L1511.6 896.6L1513.2 897.5L1514.8 896.2L1516.5 895.6L1518.1 897.2L1519.8 897.7L1524.7 897.0L1526.3 899.0L1528.0 899.7L1529.6 899.0L1532.9 899.6L1536.2 901.1L1537.8 902.6L1539.5 905.1L1541.1 906.1L1544.4 907.6L1546.0 909.2L1547.7 911.7L1549.3 912.9L1551.0 913.4L1554.3 917.6L1555.9 917.7L1557.5 920.3L1559.2 925.5L1560.8 927.2L1562.5 927.8L1569.0 944.2L1574.0 954.3L1578.9 967.5L1583.8 978.6L1585.4 981.6L1595.3 1007.5L1598.6 1015.8L1600.2 1019.1L1605.2 1033.3L1611.7 1047.5L1615.0 1058.3L1618.3 1064.7L1621.6 1067.9L1624.9 1077.1L1626.5 1079.6L1628.1 1080.7L1631.4 1087.8L1634.7 1091.0L1638.0 1099.3L1641.3 1105.3L1644.6 1112.3L1649.5 1118.7L1651.1 1119.3L1652.8 1120.9L1656.1 1127.6L1659.3 1130.3L1661.0 1132.2L1664.3 1138.8L1665.9 1141.3L1667.5 1142.2L1669.2 1142.5L1672.5 1147.3L1674.1 1148.7L1675.8 1149.5L1677.4 1151.0L1682.3 1158.4L1685.6 1159.0L1687.3 1161.9L1688.9 1163.1L1690.5 1163.3L1693.8 1167.0L1697.1 1168.9L1700.4 1173.6L1705.3 1176.9L1708.6 1177.9L1711.9 1181.7L1715.2 1183.0L1716.8 1184.3L1718.5 1186.4L1720.1 1189.2L1723.4 1192.7L1725.0 1195.0L1728.3 1197.8L1731.6 1202.5L1733.2 1203.5L1736.5 1203.7L1738.2 1205.3L1741.4 1210.6L1743.1 1212.4L1746.4 1214.7L1749.6 1216.2L1752.9 1222.9L1756.2 1226.0L1757.9 1226.0L1759.5 1225.1L1762.8 1228.8L1764.4 1228.1L1766.1 1228.2L1769.4 1232.1L1771.0 1232.5L1775.9 1232.1L1780.8 1233.8L1784.1 1238.2L1787.4 1237.7L1790.7 1237.9L1792.3 1239.1L1794.0 1239.4L1795.6 1238.0L1797.3 1238.1L1798.9 1238.9L1802.2 1238.7L1805.5 1243.3L1808.8 1242.5L1810.4 1242.5L1812.0 1241.3L1813.7 1240.8L1815.3 1242.3L1817.0 1242.4L1818.6 1240.9L1821.9 1243.5L1823.5 1242.4L1825.2 1242.1L1826.8 1242.4L1828.5 1242.2L1831.7 1243.4L1833.4 1242.3L1835.0 1242.0L1836.7 1242.6L1838.3 1242.6L1840.0 1241.1L1841.6 1240.3L1843.2 1241.3L1848.2 1242.5L1851.5 1240.9L1853.1 1241.0L1856.4 1243.5L1858.0 1243.4L1861.3 1241.4L1862.9 1241.1L1864.6 1241.4L1867.9 1240.9L1871.2 1244.9L1872.8 1245.6L1876.1 1242.7L1879.4 1242.1L1881.0 1241.2L1882.7 1240.8L1884.3 1241.5L1885.9 1243.0L1887.6 1243.5L1890.9 1243.4L1892.5 1243.8L1894.1 1242.9L1895.8 1242.7L1897.4 1244.1L1899.1 1244.4L1900.7 1244.1L1904.0 1242.6L1905.6 1242.8L1908.9 1244.2L1912.2 1243.4L1913.8 1243.2L1915.5 1244.4L1917.1 1246.4L1918.8 1245.6L1920.4 1243.1L1922.1 1242.0L1923.7 1242.6L1925.3 1244.1L1927.0 1244.4L1928.6 1242.3L1930.3 1241.5L1933.6 1244.9L1935.2 1245.2L1938.5 1240.6L1941.8 1242.2L1943.4 1243.4L1945.0 1244.1L1946.7 1243.9L1948.3 1244.8L1950.0 1244.8L1951.6 1243.6L1953.3 1243.0L1954.9 1243.2L1956.5 1244.0L1958.2 1245.4L1959.8 1245.8L1961.5 1245.2L1963.1 1245.6L1964.8 1246.5L1968.0 1246.3L1971.3 1247.4L1973.0 1246.6L1976.2 1243.1L1977.9 1243.1L1979.5 1245.3L1981.2 1245.5L1982.8 1244.1L1984.5 1244.5L1986.1 1244.2L1987.7 1243.3L1991.0 1246.6L1992.7 1246.4L1994.3 1244.9L1995.9 1245.0L1997.6 1246.4L1999.2 1246.1L2000.9 1244.5L2002.5 1244.4L2004.2 1244.9L2005.8 1244.3L2007.4 1244.9L2009.1 1246.5L2012.4 1245.0L2015.7 1247.5L2017.3 1246.0L2018.9 1243.7L2022.2 1245.2L2023.9 1244.2L2025.5 1244.5L2027.1 1244.2L2028.8 1243.1L2030.4 1243.6L2032.1 1245.2L2033.7 1246.0L2035.4 1245.6L2037.0 1245.7"/>
<path stroke="#00e000" d="M293.2 -179.7L299.8 -79.3L307.0 8.2L321.4 159.2L329.6 238.6L335.6 282.4L345.1 339.7L348.7 364.7L351.3 374.8L352.3 376.1L353.3 375.3L357.2 365.8L364.8 338.8L373.3 307.5L381.2 285.1L401.9 233.8L407.8 217.1L410.8 211.0L411.7 210.5L413.1 211.9L415.4 218.4L426.2 276.5L437.7 337.4L449.2 394.7L473.8 535.8L485.3 611.9L500.1 722.0L505.0 753.8L509.9 777.7L514.9 796.6L521.4 816.0L528.0 831.7L532.9 841.3L539.5 851.5L546.1 859.7L551.0 863.2L559.2 866.8L560.8 867.7L570.7 870.2L577.3 870.8L585.5 872.4L587.1 873.2L590.4 873.4L597.0 875.2L600.2 877.0L610.1 879.9L615.0 881.7L618.3 882.1L623.2 884.0L626.5 884.3L628.2 884.9L631.4 885.2L633.1 886.0L634.7 886.3L638.0 885.7L651.2 884.9L652.8 885.1L657.7 888.4L665.9 897.9L669.2 901.7L674.1 908.1L679.1 915.9L697.1 938.7L707.0 953.2L715.2 965.3L723.4 979.4L726.7 986.2L731.6 992.8L746.4 1009.4L754.6 1017.3L762.8 1024.4L771.0 1031.1L774.3 1034.3L785.8 1043.2L790.7 1047.6L797.3 1052.1L805.5 1059.2L808.8 1061.4L812.1 1064.1L825.2 1073.2L838.3 1081.9L843.3 1085.5L848.2 1088.8L854.8 1095.1L863.0 1101.4L866.3 1104.5L867.9 1105.6L876.1 1114.0L881.0 1119.7L884.3 1123.2L887.6 1127.4L895.8 1136.3L918.8 1164.8L923.7 1172.9L938.5 1194.2L945.1 1202.0L950.0 1207.2L953.3 1209.7L954.9 1211.4L959.8 1214.2L968.1 1216.7L971.3 1216.3L974.6 1216.6L979.6 1215.1L986.1 1210.5L987.8 1209.9L989.4 1210.2L996.0 1212.4L1000.9 1216.1L1005.8 1220.9L1007.5 1221.9L1014.0 1223.8L1022.2 1225.1L1028.8 1224.6L1037.0 1225.7L1040.3 1225.6L1046.9 1226.0L1050.2 1225.7L1053.4 1226.4L1058.4 1226.3L1061.7 1225.4L1064.9 1226.2L1068.2 1226.6L1071.5 1225.6L1073.1 1225.7L1074.8 1226.4L1076.4 1226.4L1078.1 1225.8L1083.0 1225.5L1086.3 1225.8L1087.9 1225.2L1091.2 1225.4L1101.1 1223.5L1106.0 1224.3L1107.6 1223.8L1109.3 1222.4L1110.9 1221.9L1112.6 1222.8L1114.2 1223.1L1115.8 1222.4L1119.1 1222.3L1122.4 1222.4L1125.7 1220.9L1127.3 1220.6L1130.6 1220.9L1133.9 1220.0L1137.2 1220.3L1140.5 1219.5L1143.8 1219.9L1147.0 1218.6L1150.3 1218.5L1155.2 1218.6L1161.8 1217.1L1165.1 1217.1L1168.4 1215.8L1171.7 1215.8L1176.6 1215.0L1181.5 1213.5L1184.8 1213.4L1188.1 1213.6L1193.0 1212.3L1196.3 1212.4L1197.9 1212.1L1201.2 1210.7L1202.9 1210.7L1206.1 1209.9L1209.4 1210.2L1212.7 1208.9L1214.4 1208.6L1217.6 1208.9L1220.9 1207.3L1227.5 1206.5L1230.8 1205.4L1234.1 1205.2L1240.6 1203.2L1243.9 1202.9L1245.6 1202.4L1248.8 1200.4L1252.1 1200.2L1255.4 1198.9L1258.7 1198.2L1260.3 1197.3L1262.0 1196.9L1263.6 1197.1L1268.5 1195.5L1270.2 1194.4L1271.8 1194.1L1273.5 1194.2L1278.4 1192.4L1283.3 1189.7L1286.6 1187.2L1288.2 1186.8L1289.9 1185.9L1291.5 1184.5L1294.8 1183.9L1296.5 1182.6L1299.7 1179.4L1306.3 1175.8L1309.6 1172.5L1312.9 1169.3L1316.2 1168.5L1319.4 1165.2L1321.1 1164.3L1324.4 1160.8L1327.7 1159.8L1329.3 1159.6L1330.9 1158.6L1335.9 1153.5L1337.5 1152.1L1339.1 1150.0L1340.8 1148.8L1344.1 1147.4L1345.7 1146.3L1349.0 1141.2L1352.3 1140.2L1355.6 1137.3L1357.2 1136.2L1360.5 1136.3L1363.8 1131.9L1367.1 1130.2L1368.7 1130.1L1370.3 1129.6L1372.0 1127.3L1373.6 1125.7L1375.3 1125.2L1381.8 1120.3L1385.1 1120.4L1388.4 1117.3L1393.3 1113.8L1396.6 1110.8L1399.9 1112.0L1401.5 1110.5L1403.2 1108.4L1406.5 1107.9L1409.8 1104.9L1411.4 1103.8L1413.0 1103.4L1414.7 1103.5L1416.3 1102.9L1418.0 1101.7L1421.2 1102.0L1422.9 1101.1L1424.5 1099.3L1427.8 1094.5L1429.5 1094.2L1431.1 1094.9L1432.7 1095.2L1436.0 1093.7L1439.3 1093.5L1441.0 1092.5L1442.6 1089.7L1444.2 1087.8L1445.9 1086.6L1447.5 1083.8L1449.2 1082.8L1450.8 1084.4L1452.4 1084.1L1457.4 1079.3L1460.7 1074.6L1462.3 1073.2L1465.6 1071.8L1472.2 1066.2L1475.4 1064.7L1478.7 1059.4L1480.4 1059.9L1482.0 1059.7L1483.6 1057.4L1485.3 1057.8L1486.9 1058.6L1490.2 1052.8L1493.5 1049.9L1495.1 1049.4L1498.4 1051.3L1500.1 1050.2L1501.7 1047.6L1503.3 1046.7L1505.0 1047.2L1508.3 1045.8L1509.9 1047.0L1511.6 1046.9L1513.2 1044.7L1514.8 1043.5L1518.1 1045.5L1523.1 1043.1L1526.3 1043.1L1529.6 1044.4L1532.9 1044.2L1536.2 1046.4L1537.8 1047.9L1539.5 1048.6L1541.1 1050.0L1542.8 1052.0L1547.7 1055.2L1549.3 1055.5L1551.0 1056.4L1555.9 1063.9L1559.2 1065.3L1560.8 1067.5L1565.7 1077.2L1569.0 1083.0L1570.7 1085.0L1572.3 1086.4L1575.6 1090.8L1578.9 1097.3L1583.8 1104.8L1588.7 1110.9L1590.4 1111.7L1592.0 1113.3L1593.7 1116.1L1596.9 1120.1L1600.2 1123.4L1601.9 1127.7L1603.5 1130.8L1605.2 1132.3L1606.8 1133.3L1608.4 1132.4L1610.1 1132.0L1615.0 1139.1L1616.6 1142.2L1619.9 1144.1L1624.9 1150.9L1626.5 1153.8L1628.1 1155.1L1629.8 1155.1L1631.4 1156.6L1633.1 1159.0L1634.7 1160.5L1639.6 1163.2L1641.3 1164.7L1644.6 1169.5L1647.8 1171.2L1649.5 1172.6L1652.8 1174.6L1654.4 1175.6L1656.1 1176.0L1659.3 1179.5L1661.0 1180.2L1662.6 1179.1L1664.3 1179.6L1665.9 1182.9L1667.5 1184.3L1669.2 1183.9L1670.8 1184.5L1672.5 1187.1L1674.1 1188.8L1675.8 1188.3L1677.4 1189.2L1680.7 1192.4L1682.3 1193.4L1685.6 1192.2L1687.3 1193.1L1688.9 1194.8L1693.8 1197.4L1695.5 1197.8L1697.1 1198.7L1698.7 1200.3L1700.4 1201.1L1702.0 1201.5L1703.7 1202.7L1705.3 1203.3L1707.0 1203.3L1710.2 1205.5L1711.9 1205.9L1715.2 1209.3L1716.8 1208.9L1718.5 1210.4L1720.1 1212.7L1723.4 1210.9L1726.7 1216.2L1729.9 1216.5L1731.6 1218.5L1733.2 1219.6L1734.9 1218.8L1736.5 1218.6L1739.8 1221.3L1741.4 1223.3L1743.1 1224.3L1744.7 1223.7L1746.4 1225.1L1748.0 1227.2L1749.6 1226.8L1751.3 1227.0L1752.9 1228.5L1756.2 1229.6L1759.5 1232.0L1767.7 1235.1L1769.4 1234.9L1772.6 1235.8L1775.9 1233.3L1779.2 1237.0L1780.8 1236.7L1782.5 1237.0L1784.1 1238.3L1785.8 1239.0L1789.1 1237.4L1790.7 1238.2L1792.3 1239.9L1794.0 1240.7L1795.6 1240.3L1797.3 1238.9L1798.9 1238.8L1800.6 1240.6L1802.2 1241.4L1805.5 1241.8L1807.1 1241.0L1808.8 1241.4L1810.4 1243.2L1812.0 1242.8L1813.7 1241.1L1815.3 1240.9L1818.6 1242.6L1821.9 1242.3L1825.2 1243.7L1826.8 1242.5L1828.5 1242.1L1830.1 1242.5L1831.7 1241.6L1833.4 1241.8L1835.0 1243.0L1836.7 1243.0L1840.0 1241.7L1841.6 1242.3L1843.2 1244.2L1844.9 1244.1L1846.5 1242.3L1848.2 1242.0L1849.8 1242.2L1851.5 1241.6L1853.1 1241.8L1854.7 1242.7L1858.0 1242.8L1859.7 1242.0L1861.3 1242.0L1862.9 1243.4L1866.2 1243.2L1869.5 1243.7L1871.2 1244.5L1872.8 1244.2L1874.4 1242.6L1876.1 1242.3L1877.7 1244.0L1879.4 1243.8L1881.0 1241.2L1882.7 1241.0L1885.9 1244.4L1890.9 1243.4L1892.5 1242.3L1894.1 1242.4L1897.4 1244.7L1899.1 1245.2L1902.4 1243.8L1905.6 1243.8L1910.6 1242.3L1913.8 1244.8L1917.1 1242.6L1920.4 1244.2L1923.7 1243.5L1925.3 1243.8L1927.0 1244.6L1928.6 1244.1L1930.3 1242.6L1931.9 1242.1L1933.6 1242.2L1935.2 1242.9L1936.8 1244.1L1940.1 1243.9L1943.4 1245.6L1945.0 1246.1L1950.0 1245.4L1951.6 1244.6L1956.5 1245.1L1959.8 1243.6L1961.5 1244.1L1964.8 1245.8L1968.0 1245.1L1971.3 1245.1L1974.6 1243.1L1977.9 1245.0L1979.5 1243.9L1981.2 1241.7L1982.8 1241.7L1987.7 1245.1L1989.4 1245.1L1991.0 1244.6L1992.7 1245.0L1994.3 1245.9L1995.9 1245.7L1997.6 1244.6L1999.2 1245.3L2000.9 1246.7L2004.2 1244.0L2007.4 1245.7L2009.1 1245.9L2010.7 1245.4L2014.0 1246.9L2017.3 1243.3L2018.9 1245.2L2020.6 1246.4L2023.9 1244.0L2025.5 1244.1L2027.1 1246.4L2028.8 1247.5L2032.1 1244.9L2033.7 1244.3L2035.4 1244.8L2037.0 1246.2"/>
<path stroke="#000000" d="M293.2 -177.4L299.4 -80.4L306.7 8.6L319.5 144.7L328.7 234.2L334.6 278.5L344.4 336.8L348.7 369.5L351.3 380.6L352.3 382.0L353.3 381.3L356.9 373.2L361.5 358.0L373.7 315.2L381.9 292.0L401.9 242.2L407.8 225.8L410.8 219.9L411.7 219.6L413.1 221.3L415.4 228.2L434.4 335.0L449.2 408.9L465.6 504.0L475.5 560.2L485.3 622.0L493.5 681.2L500.1 729.1L505.0 759.2L509.9 782.0L514.9 800.2L521.4 819.2L528.0 834.7L532.9 844.0L539.5 853.9L544.4 860.1L546.1 861.7L551.0 864.6L552.6 865.8L559.2 868.5L565.8 869.7L570.7 871.6L577.3 872.1L583.8 873.6L587.1 873.6L592.0 875.1L593.7 875.1L595.3 875.7L598.6 877.3L601.9 878.1L605.2 879.5L608.5 880.2L613.4 882.4L616.7 883.6L624.9 887.2L629.8 888.2L633.1 888.4L636.4 889.2L641.3 889.8L644.6 888.8L652.8 889.3L656.1 891.4L661.0 895.8L665.9 901.9L669.2 905.4L675.8 914.7L679.1 918.7L682.3 923.4L693.8 937.5L713.5 964.4L723.4 979.8L726.7 986.2L730.0 990.2L733.3 993.6L736.5 997.4L743.1 1004.2L749.7 1010.0L762.8 1020.5L766.1 1022.4L769.4 1025.5L772.7 1027.6L775.9 1030.0L777.6 1030.6L780.9 1033.5L785.8 1037.0L792.4 1042.4L797.3 1045.6L800.6 1048.9L805.5 1051.8L818.6 1061.1L821.9 1063.5L826.8 1066.2L831.8 1069.1L838.3 1074.0L841.6 1075.9L858.0 1089.6L861.3 1092.0L871.2 1101.6L877.7 1110.1L882.7 1114.9L892.5 1126.3L897.5 1132.5L908.9 1146.2L918.8 1160.5L923.7 1168.8L930.3 1179.2L940.1 1194.2L941.8 1197.1L946.7 1202.5L954.9 1210.0L958.2 1212.4L961.5 1213.7L964.8 1215.7L969.7 1216.2L976.3 1215.4L979.6 1214.5L986.1 1210.6L987.8 1210.0L992.7 1210.8L997.6 1213.4L1005.8 1220.3L1010.8 1223.2L1015.7 1223.7L1023.9 1225.2L1030.5 1225.0L1033.7 1225.1L1037.0 1226.1L1038.7 1226.0L1040.3 1225.5L1045.2 1226.0L1051.8 1225.5L1055.1 1226.3L1063.3 1225.6L1069.9 1225.9L1074.8 1225.3L1087.9 1225.1L1091.2 1224.6L1094.5 1224.6L1101.1 1223.3L1102.7 1222.8L1106.0 1223.5L1109.3 1222.4L1114.2 1221.8L1119.1 1222.0L1125.7 1220.7L1130.6 1220.4L1132.3 1220.6L1142.1 1218.8L1143.8 1218.2L1147.0 1218.4L1150.3 1217.5L1152.0 1216.8L1155.2 1216.9L1160.2 1215.7L1161.8 1215.1L1168.4 1214.4L1171.7 1213.3L1175.0 1213.4L1179.9 1212.2L1181.5 1211.4L1184.8 1211.5L1189.7 1210.0L1193.0 1209.2L1194.7 1209.1L1196.3 1209.5L1197.9 1209.4L1201.2 1208.1L1202.9 1207.2L1206.1 1207.4L1209.4 1206.1L1216.0 1205.3L1219.3 1203.7L1224.2 1203.3L1230.8 1200.5L1232.4 1199.6L1234.1 1199.3L1235.7 1199.6L1243.9 1196.1L1245.6 1196.3L1252.1 1194.8L1255.4 1192.9L1260.3 1191.9L1263.6 1190.4L1265.3 1190.4L1268.5 1188.5L1270.2 1188.0L1273.5 1185.7L1276.8 1185.1L1281.7 1181.9L1288.2 1176.9L1291.5 1175.7L1294.8 1172.8L1296.5 1171.7L1299.7 1168.3L1303.0 1166.4L1308.0 1161.7L1311.2 1159.5L1312.9 1157.4L1316.2 1156.2L1321.1 1150.3L1324.4 1147.7L1329.3 1141.3L1332.6 1139.8L1335.9 1137.1L1337.5 1134.9L1339.1 1133.5L1340.8 1133.2L1344.1 1130.3L1350.6 1123.7L1352.3 1121.2L1353.9 1119.6L1355.6 1119.2L1358.9 1115.8L1362.1 1113.1L1365.4 1108.8L1367.1 1107.9L1368.7 1106.4L1370.3 1103.7L1372.0 1102.4L1373.6 1102.6L1376.9 1099.5L1378.6 1098.7L1381.8 1096.0L1388.4 1092.8L1390.1 1090.6L1391.7 1086.8L1393.3 1084.6L1396.6 1083.9L1399.9 1081.0L1401.5 1080.1L1404.8 1080.0L1406.5 1079.0L1408.1 1078.5L1409.8 1078.4L1411.4 1076.9L1413.0 1074.1L1414.7 1072.9L1416.3 1072.5L1418.0 1069.9L1419.6 1068.6L1421.2 1069.6L1422.9 1069.5L1426.2 1066.6L1427.8 1066.9L1429.5 1066.8L1432.7 1065.9L1436.0 1061.1L1442.6 1057.0L1445.9 1056.1L1447.5 1054.3L1450.8 1048.5L1452.4 1046.4L1455.7 1046.1L1457.4 1044.6L1460.7 1038.6L1462.3 1037.4L1463.9 1037.0L1465.6 1035.5L1467.2 1032.9L1468.9 1031.2L1470.5 1030.1L1473.8 1025.6L1475.4 1024.1L1477.1 1021.9L1478.7 1020.5L1480.4 1020.0L1482.0 1018.8L1485.3 1017.8L1488.6 1014.9L1491.9 1011.1L1493.5 1009.6L1495.1 1009.8L1496.8 1010.8L1503.3 1005.0L1505.0 1003.0L1506.6 1001.9L1508.3 1002.6L1509.9 1001.6L1511.6 1001.2L1513.2 1001.4L1514.8 999.9L1516.5 999.3L1518.1 1000.0L1521.4 996.5L1524.7 1001.7L1528.0 1001.2L1529.6 1001.5L1532.9 1003.2L1534.5 1003.5L1537.8 1007.1L1539.5 1007.8L1542.8 1007.5L1544.4 1008.8L1546.0 1010.8L1547.7 1012.2L1549.3 1012.5L1551.0 1013.7L1552.6 1016.7L1555.9 1021.1L1557.5 1024.3L1562.5 1031.4L1565.7 1035.0L1569.0 1042.2L1572.3 1046.9L1574.0 1051.6L1575.6 1054.8L1577.2 1056.9L1582.2 1066.1L1585.4 1071.3L1588.7 1078.3L1595.3 1089.2L1598.6 1090.6L1600.2 1092.8L1603.5 1100.3L1605.2 1102.5L1606.8 1105.5L1610.1 1109.0L1611.7 1112.3L1615.0 1116.4L1616.6 1119.6L1618.3 1122.0L1621.6 1125.2L1623.2 1126.1L1624.9 1128.5L1626.5 1132.4L1629.8 1136.4L1631.4 1139.0L1633.1 1140.7L1634.7 1141.5L1638.0 1146.4L1641.3 1148.2L1642.9 1150.9L1644.6 1151.8L1646.2 1151.0L1647.8 1153.0L1649.5 1157.3L1651.1 1159.1L1652.8 1159.5L1656.1 1162.4L1657.7 1163.0L1659.3 1165.0L1661.0 1168.6L1662.6 1170.6L1665.9 1168.9L1669.2 1173.0L1670.8 1172.8L1672.5 1173.1L1674.1 1175.1L1675.8 1176.4L1677.4 1176.5L1679.0 1177.0L1685.6 1183.5L1687.3 1184.7L1688.9 1185.1L1692.2 1186.7L1693.8 1186.8L1695.5 1187.5L1698.7 1191.7L1700.4 1192.4L1702.0 1193.7L1703.7 1195.5L1705.3 1195.7L1707.0 1195.1L1708.6 1196.3L1710.2 1199.2L1711.9 1200.9L1713.5 1201.3L1715.2 1201.3L1716.8 1202.1L1718.5 1205.3L1720.1 1207.5L1723.4 1207.1L1725.0 1207.7L1726.7 1207.5L1728.3 1208.2L1731.6 1214.0L1733.2 1215.3L1734.9 1214.8L1736.5 1214.9L1739.8 1216.8L1743.1 1218.3L1746.4 1223.1L1749.6 1226.5L1751.3 1227.1L1754.6 1224.8L1756.2 1225.2L1759.5 1229.7L1761.1 1230.3L1762.8 1229.7L1764.4 1230.4L1766.1 1231.7L1767.7 1231.6L1771.0 1234.6L1772.6 1234.2L1774.3 1234.3L1775.9 1235.7L1777.6 1235.4L1779.2 1234.0L1780.8 1233.5L1782.5 1235.1L1784.1 1238.0L1785.8 1238.6L1787.4 1238.2L1790.7 1240.9L1792.3 1240.2L1794.0 1237.8L1795.6 1237.4L1800.6 1240.7L1807.1 1240.5L1808.8 1241.6L1810.4 1241.9L1812.0 1240.9L1813.7 1241.0L1815.3 1241.6L1817.0 1243.2L1818.6 1244.2L1821.9 1242.8L1823.5 1242.6L1825.2 1244.2L1826.8 1244.7L1828.5 1242.8L1830.1 1241.8L1831.7 1242.7L1833.4 1243.1L1835.0 1242.9L1836.7 1243.7L1838.3 1244.0L1840.0 1243.7L1843.2 1242.3L1844.9 1242.6L1846.5 1242.1L1848.2 1242.6L1849.8 1244.6L1851.5 1244.8L1854.7 1243.4L1858.0 1244.2L1859.7 1242.7L1861.3 1241.9L1862.9 1243.4L1864.6 1244.3L1871.2 1242.5L1874.4 1242.4L1876.1 1243.0L1877.7 1245.1L1879.4 1245.0L1881.0 1243.9L1885.9 1244.0L1889.2 1244.3L1890.9 1244.1L1892.5 1243.4L1894.1 1243.6L1897.4 1241.5L1900.7 1243.9L1904.0 1241.7L1905.6 1241.1L1907.3 1241.7L1908.9 1243.1L1912.2 1242.0L1913.8 1243.0L1917.1 1246.7L1920.4 1243.2L1922.1 1244.9L1923.7 1245.0L1927.0 1242.4L1928.6 1242.9L1930.3 1244.8L1933.6 1243.7L1935.2 1244.8L1936.8 1243.7L1938.5 1241.6L1940.1 1241.6L1943.4 1246.4L1946.7 1243.9L1948.3 1244.3L1951.6 1241.4L1954.9 1245.1L1956.5 1244.6L1959.8 1244.8L1963.1 1243.5L1966.4 1245.5L1969.7 1244.2L1971.3 1244.1L1973.0 1243.2L1974.6 1243.7L1976.2 1244.9L1977.9 1243.7L1979.5 1241.8L1981.2 1242.2L1982.8 1243.5L1984.5 1244.1L1986.1 1245.5L1987.7 1246.1L1989.4 1244.7L1991.0 1244.0L1997.6 1244.9L2000.9 1243.8L2002.5 1244.1L2004.2 1245.0L2005.8 1246.6L2007.4 1245.8L2009.1 1243.1L2010.7 1242.5L2014.0 1245.6L2015.7 1246.1L2017.3 1244.9L2018.9 1244.9L2020.6 1245.9L2023.9 1244.2L2027.1 1245.8L2028.8 1245.9L2030.4 1245.7L2032.1 1244.5L2035.4 1245.7L2037.0 1244.6"/>
<path stroke="#7a3c08" d="M293.2 -184.2L300.4 -77.5L307.3 3.7L330.0 234.1L335.9 279.8L347.4 349.1L349.7 358.5L351.7 363.7L352.3 364.2L353.3 363.4L357.6 351.7L368.1 310.1L373.3 290.0L380.2 270.5L401.2 218.9L407.8 199.5L411.1 192.7L412.1 192.2L413.1 192.9L415.0 197.6L421.3 224.7L444.3 341.7L455.8 401.5L470.5 485.6L478.7 541.3L487.0 605.4L500.1 707.8L505.0 743.1L509.9 769.2L514.9 789.4L519.8 805.1L526.4 822.1L532.9 836.0L539.5 846.7L546.1 855.3L551.0 859.7L559.2 864.1L567.4 866.6L569.1 866.8L572.3 868.2L587.1 870.7L595.3 872.7L603.5 875.6L608.5 877.2L613.4 878.1L616.7 878.9L624.9 879.2L628.2 879.8L631.4 879.5L633.1 879.7L641.3 878.1L644.6 878.1L651.2 877.3L654.4 877.9L656.1 878.8L659.4 882.5L667.6 892.3L674.1 901.7L680.7 911.3L693.8 928.7L700.4 937.2L711.9 956.9L730.0 991.6L743.1 1012.7L748.0 1019.0L751.3 1023.4L784.2 1060.5L794.0 1071.1L800.6 1077.2L805.5 1082.5L808.8 1085.1L813.7 1089.8L820.3 1095.8L823.6 1097.5L828.5 1101.7L831.8 1103.5L836.7 1107.1L849.8 1116.0L853.1 1118.6L854.8 1119.2L867.9 1128.7L871.2 1131.8L872.8 1132.7L884.3 1144.1L905.7 1166.8L917.2 1177.8L923.7 1185.1L928.6 1190.8L943.4 1205.6L948.4 1209.3L956.6 1214.9L959.8 1216.0L966.4 1217.3L971.3 1218.2L974.6 1217.8L979.6 1216.5L984.5 1212.8L987.8 1211.2L991.0 1211.3L992.7 1211.7L1000.9 1216.6L1005.8 1221.3L1012.4 1224.2L1019.0 1224.4L1022.2 1225.4L1030.5 1225.7L1033.7 1226.1L1037.0 1225.7L1040.3 1226.0L1041.9 1225.9L1046.9 1226.7L1051.8 1226.7L1056.7 1227.2L1060.0 1226.7L1063.3 1226.9L1066.6 1226.5L1069.9 1226.8L1073.1 1226.4L1076.4 1226.4L1084.6 1225.7L1086.3 1225.7L1087.9 1225.2L1091.2 1225.1L1092.8 1224.8L1096.1 1225.2L1099.4 1224.1L1106.0 1223.2L1109.3 1222.4L1112.6 1224.3L1119.1 1223.1L1122.4 1223.4L1124.0 1222.9L1127.3 1223.1L1130.6 1222.0L1135.5 1222.1L1138.8 1221.0L1140.5 1220.8L1143.8 1221.3L1145.4 1221.1L1147.0 1220.5L1148.7 1220.5L1152.0 1221.5L1153.6 1221.4L1156.9 1220.0L1158.5 1219.9L1160.2 1220.2L1163.5 1218.6L1165.1 1218.9L1166.7 1219.6L1171.7 1219.7L1175.0 1217.5L1176.6 1217.5L1178.2 1218.1L1179.9 1218.2L1183.2 1217.7L1184.8 1218.3L1186.4 1218.1L1188.1 1217.0L1191.4 1216.4L1196.3 1216.4L1199.6 1215.3L1207.8 1215.7L1211.1 1214.1L1214.4 1214.6L1217.6 1213.7L1219.3 1214.3L1220.9 1214.4L1224.2 1212.6L1227.5 1213.5L1229.1 1213.2L1230.8 1212.1L1232.4 1211.5L1240.6 1211.2L1247.2 1209.4L1252.1 1208.6L1253.8 1208.6L1255.4 1208.2L1257.0 1207.3L1260.3 1207.9L1263.6 1205.8L1265.3 1206.1L1266.9 1206.9L1268.5 1206.6L1273.5 1204.3L1276.8 1203.3L1278.4 1203.2L1280.0 1203.7L1281.7 1203.4L1286.6 1200.3L1289.9 1199.4L1291.5 1200.1L1293.2 1200.1L1296.5 1196.6L1299.7 1195.7L1303.0 1192.4L1306.3 1192.4L1309.6 1189.1L1312.9 1187.5L1314.5 1186.2L1317.8 1185.7L1321.1 1183.2L1324.4 1181.9L1327.7 1181.3L1330.9 1179.2L1335.9 1177.2L1342.4 1172.7L1344.1 1171.8L1345.7 1171.7L1347.4 1171.0L1349.0 1169.1L1350.6 1168.3L1352.3 1168.0L1355.6 1165.7L1357.2 1165.2L1358.9 1163.9L1360.5 1161.9L1362.1 1160.8L1363.8 1160.4L1365.4 1161.0L1367.1 1161.0L1370.3 1157.5L1373.6 1156.7L1375.3 1156.8L1376.9 1156.2L1378.6 1154.3L1380.2 1153.6L1381.8 1154.0L1385.1 1151.7L1388.4 1150.3L1391.7 1148.5L1395.0 1149.6L1396.6 1148.5L1399.9 1148.2L1403.2 1146.9L1404.8 1144.9L1406.5 1143.6L1408.1 1144.0L1411.4 1142.5L1414.7 1143.2L1418.0 1140.7L1427.8 1137.2L1432.7 1136.7L1436.0 1136.6L1439.3 1134.2L1441.0 1134.2L1442.6 1133.5L1445.9 1133.5L1449.2 1129.8L1450.8 1130.7L1452.4 1130.9L1457.4 1124.6L1459.0 1124.3L1460.7 1124.5L1463.9 1122.7L1467.2 1121.7L1472.2 1117.5L1475.4 1116.9L1477.1 1116.4L1480.4 1113.3L1482.0 1112.9L1483.6 1111.8L1485.3 1111.3L1488.6 1108.0L1490.2 1110.0L1491.9 1109.4L1493.5 1106.5L1495.1 1106.0L1496.8 1106.5L1500.1 1105.9L1503.3 1102.9L1505.0 1103.4L1506.6 1102.9L1508.3 1100.9L1509.9 1100.6L1511.6 1101.9L1516.5 1102.9L1518.1 1102.8L1519.8 1103.3L1521.4 1104.6L1523.1 1104.9L1526.3 1101.9L1528.0 1101.7L1529.6 1103.0L1531.3 1103.6L1532.9 1103.1L1534.5 1103.6L1536.2 1105.0L1539.5 1104.9L1542.8 1109.2L1544.4 1110.1L1547.7 1109.4L1549.3 1109.7L1552.6 1112.5L1554.3 1112.8L1557.5 1117.5L1559.2 1118.4L1560.8 1120.2L1564.1 1124.8L1565.7 1126.7L1569.0 1131.8L1570.7 1132.1L1572.3 1133.5L1574.0 1136.1L1577.2 1136.6L1580.5 1141.9L1582.2 1143.2L1585.4 1148.4L1587.1 1149.9L1588.7 1150.8L1590.4 1151.2L1592.0 1152.9L1593.7 1155.2L1598.6 1159.1L1603.5 1163.6L1606.8 1165.9L1608.4 1166.6L1611.7 1170.1L1615.0 1172.0L1618.3 1173.6L1619.9 1175.2L1621.6 1176.0L1623.2 1175.5L1624.9 1176.3L1626.5 1178.0L1628.1 1178.9L1631.4 1182.1L1633.1 1181.9L1634.7 1181.1L1636.4 1182.4L1639.6 1186.5L1642.9 1186.1L1646.2 1188.6L1651.1 1191.0L1654.4 1194.2L1656.1 1194.3L1657.7 1193.7L1661.0 1196.5L1662.6 1197.0L1665.9 1200.1L1669.2 1201.4L1672.5 1201.9L1675.8 1204.2L1680.7 1205.5L1682.3 1205.1L1684.0 1205.5L1687.3 1208.6L1690.5 1209.9L1693.8 1210.4L1697.1 1212.8L1700.4 1211.2L1703.7 1213.8L1705.3 1213.5L1707.0 1213.8L1708.6 1215.2L1710.2 1217.5L1711.9 1217.1L1713.5 1215.1L1716.8 1219.2L1718.5 1219.1L1720.1 1219.8L1721.7 1221.4L1723.4 1221.8L1725.0 1221.7L1726.7 1222.1L1728.3 1223.2L1731.6 1226.8L1733.2 1227.4L1734.9 1226.7L1736.5 1227.5L1738.2 1227.3L1739.8 1226.5L1743.1 1228.5L1746.4 1229.4L1748.0 1230.4L1749.6 1230.8L1751.3 1230.6L1754.6 1234.0L1757.9 1233.5L1759.5 1234.2L1761.1 1233.6L1762.8 1232.6L1764.4 1233.0L1769.4 1237.6L1771.0 1237.6L1772.6 1236.8L1774.3 1236.8L1779.2 1239.0L1780.8 1239.0L1784.1 1238.0L1787.4 1237.7L1789.1 1238.9L1790.7 1241.2L1792.3 1241.4L1795.6 1240.5L1797.3 1239.5L1798.9 1239.5L1800.6 1240.5L1803.8 1240.1L1805.5 1241.1L1807.1 1241.4L1810.4 1240.2L1812.0 1240.1L1815.3 1241.3L1817.0 1242.6L1821.9 1244.5L1825.2 1241.2L1826.8 1241.9L1828.5 1242.0L1830.1 1241.5L1831.7 1241.5L1835.0 1239.6L1840.0 1241.5L1843.2 1242.2L1844.9 1241.9L1846.5 1242.3L1848.2 1243.7L1851.5 1242.6L1854.7 1243.5L1856.4 1243.2L1859.7 1241.1L1861.3 1240.9L1864.6 1243.2L1866.2 1242.7L1867.9 1241.6L1869.5 1242.4L1871.2 1244.1L1872.8 1244.5L1874.4 1244.2L1877.7 1242.1L1881.0 1241.9L1884.3 1243.4L1887.6 1242.0L1890.9 1243.8L1892.5 1243.8L1894.1 1243.0L1897.4 1244.5L1900.7 1244.5L1904.0 1242.0L1907.3 1241.2L1908.9 1241.9L1910.6 1243.5L1912.2 1242.9L1913.8 1241.0L1915.5 1241.5L1917.1 1244.5L1918.8 1245.4L1920.4 1244.1L1923.7 1244.6L1925.3 1244.2L1928.6 1246.2L1931.9 1243.5L1933.6 1242.8L1935.2 1242.7L1940.1 1245.4L1941.8 1246.0L1945.0 1243.0L1946.7 1242.1L1948.3 1242.0L1950.0 1244.1L1951.6 1245.4L1953.3 1243.7L1954.9 1243.4L1956.5 1245.5L1958.2 1246.1L1959.8 1244.5L1961.5 1244.1L1963.1 1245.1L1966.4 1245.7L1968.0 1246.4L1969.7 1246.0L1971.3 1245.0L1973.0 1245.0L1974.6 1246.4L1976.2 1246.3L1977.9 1244.5L1979.5 1244.6L1981.2 1245.6L1984.5 1245.4L1986.1 1245.8L1987.7 1245.3L1989.4 1244.4L1991.0 1244.4L1992.7 1245.6L1994.3 1245.9L1995.9 1244.3L1997.6 1243.6L1999.2 1245.0L2000.9 1245.5L2005.8 1244.1L2010.7 1244.8L2015.7 1246.8L2018.9 1246.0L2022.2 1244.4L2025.5 1244.0L2027.1 1245.0L2028.8 1246.6L2032.1 1245.1L2033.7 1245.9L2035.4 1246.2L2037.0 1245.4"/>
<path stroke="#4f7208" d="M293.2 -184.9L300.4 -78.5L307.3 2.5L330.3 235.9L336.2 281.3L344.4 330.7L348.4 352.5L351.3 361.4L352.3 362.4L353.3 361.6L357.6 349.7L368.1 307.7L373.3 287.4L380.2 268.0L401.2 216.4L407.8 196.9L411.1 190.0L412.1 189.4L413.1 190.1L415.0 194.7L421.3 221.1L454.1 387.9L468.9 471.0L475.5 513.7L483.7 575.0L495.2 668.5L505.0 741.4L509.9 767.9L514.9 788.3L519.8 804.1L526.4 821.2L532.9 835.2L539.5 845.9L544.4 852.7L549.3 857.8L555.9 862.3L559.2 863.3L564.1 865.8L572.3 867.6L578.9 868.9L580.5 868.9L583.8 870.1L587.1 870.4L590.4 871.4L595.3 872.3L598.6 873.9L601.9 874.5L606.8 876.5L613.4 877.7L616.7 878.8L620.0 878.7L624.9 878.4L628.2 879.0L631.4 878.5L638.0 878.1L642.9 877.5L646.2 876.6L651.2 876.1L654.4 876.8L657.7 879.1L662.6 885.2L665.9 889.0L667.6 890.6L672.5 897.8L679.1 908.3L682.3 912.6L687.3 918.9L698.8 934.4L708.6 950.3L721.8 975.6L728.3 989.4L734.9 1001.0L736.5 1004.6L748.0 1021.5L756.2 1033.1L761.2 1038.1L766.1 1044.8L771.0 1050.4L774.3 1055.1L782.5 1065.1L785.8 1069.4L790.7 1074.2L797.3 1081.7L810.4 1095.6L820.3 1103.9L823.6 1106.5L826.8 1109.2L838.3 1117.5L841.6 1120.3L843.3 1121.3L846.5 1122.5L858.0 1130.7L863.0 1133.1L869.5 1138.5L879.4 1146.5L890.9 1158.3L895.8 1163.6L910.6 1177.7L918.8 1185.4L930.3 1196.1L933.6 1198.4L936.9 1202.0L940.1 1204.6L941.8 1206.4L951.6 1213.2L956.6 1215.5L958.2 1215.9L961.5 1217.4L969.7 1218.5L974.6 1218.2L979.6 1216.6L981.2 1215.7L986.1 1211.7L987.8 1211.3L992.7 1212.3L997.6 1214.8L1000.9 1217.0L1004.2 1219.9L1009.1 1223.2L1014.0 1224.6L1017.3 1224.5L1025.5 1225.8L1030.5 1226.3L1040.3 1226.5L1043.6 1227.0L1051.8 1226.6L1056.7 1227.0L1061.7 1226.2L1071.5 1226.8L1076.4 1226.1L1081.4 1226.4L1086.3 1226.3L1087.9 1225.7L1089.6 1225.5L1092.8 1225.9L1096.1 1224.6L1099.4 1224.7L1107.6 1223.6L1112.6 1224.0L1117.5 1223.7L1120.8 1223.5L1122.4 1223.2L1125.7 1223.6L1129.0 1222.6L1133.9 1223.0L1137.2 1222.1L1140.5 1222.2L1143.8 1222.8L1148.7 1221.2L1150.3 1220.9L1155.2 1221.6L1158.5 1220.7L1165.1 1220.6L1166.7 1220.8L1170.0 1220.4L1171.7 1220.9L1173.3 1221.0L1178.2 1219.9L1181.5 1220.1L1184.8 1219.4L1188.1 1219.9L1189.7 1219.7L1191.4 1218.9L1193.0 1218.6L1194.7 1219.1L1197.9 1218.5L1202.9 1219.0L1209.4 1217.6L1214.4 1217.6L1216.0 1216.8L1219.3 1216.8L1222.6 1216.3L1225.9 1216.2L1227.5 1217.1L1229.1 1217.0L1230.8 1216.0L1234.1 1215.7L1235.7 1215.0L1237.3 1215.1L1239.0 1215.6L1240.6 1215.2L1242.3 1214.2L1243.9 1214.1L1245.6 1214.7L1248.8 1214.4L1252.1 1214.2L1253.8 1214.1L1257.0 1212.3L1265.3 1211.5L1266.9 1211.8L1270.2 1210.8L1271.8 1210.9L1273.5 1210.4L1275.1 1209.3L1276.8 1208.9L1278.4 1209.5L1280.0 1209.4L1281.7 1208.6L1285.0 1208.0L1289.9 1205.6L1291.5 1204.1L1294.8 1203.9L1298.1 1201.7L1301.4 1202.6L1306.3 1200.8L1309.6 1199.0L1316.2 1197.0L1319.4 1195.0L1321.1 1195.2L1322.7 1194.9L1324.4 1193.7L1326.0 1193.7L1327.7 1193.1L1329.3 1191.7L1330.9 1191.3L1334.2 1191.3L1337.5 1187.9L1339.1 1187.0L1342.4 1185.7L1344.1 1185.0L1345.7 1185.0L1349.0 1182.2L1352.3 1181.2L1353.9 1180.2L1355.6 1179.8L1357.2 1179.8L1360.5 1178.7L1365.4 1177.9L1367.1 1177.4L1370.3 1175.3L1373.6 1175.9L1378.6 1173.1L1380.2 1171.4L1381.8 1170.6L1385.1 1171.2L1388.4 1169.8L1390.1 1170.1L1393.3 1168.6L1398.3 1168.2L1399.9 1167.8L1401.5 1168.1L1403.2 1167.2L1404.8 1165.4L1406.5 1166.3L1408.1 1166.7L1409.8 1164.9L1413.0 1167.2L1416.3 1161.9L1419.6 1160.5L1424.5 1161.7L1427.8 1158.8L1429.5 1159.0L1432.7 1161.6L1434.4 1161.2L1437.7 1158.9L1441.0 1158.2L1444.2 1155.9L1445.9 1156.2L1447.5 1154.6L1449.2 1152.0L1452.4 1153.6L1455.7 1150.0L1457.4 1150.6L1459.0 1151.5L1460.7 1151.2L1462.3 1149.8L1463.9 1147.3L1465.6 1146.7L1467.2 1146.8L1468.9 1145.4L1472.2 1144.7L1473.8 1143.0L1477.1 1143.6L1478.7 1140.6L1480.4 1138.4L1482.0 1138.3L1483.6 1139.1L1485.3 1139.3L1488.6 1135.4L1490.2 1135.0L1493.5 1135.9L1495.1 1135.0L1496.8 1134.9L1498.4 1136.9L1500.1 1137.5L1503.3 1134.3L1505.0 1133.6L1508.3 1133.7L1513.2 1132.0L1518.1 1132.6L1523.1 1132.0L1524.7 1131.5L1526.3 1132.1L1529.6 1134.4L1531.3 1134.6L1532.9 1134.4L1534.5 1135.0L1536.2 1136.5L1537.8 1137.2L1542.8 1136.3L1544.4 1136.7L1547.7 1141.4L1549.3 1142.1L1551.0 1143.4L1552.6 1143.6L1554.3 1142.4L1555.9 1143.4L1557.5 1146.0L1562.5 1150.6L1565.7 1151.1L1567.4 1152.2L1570.7 1156.1L1577.2 1162.0L1580.5 1165.9L1587.1 1167.9L1590.4 1174.5L1592.0 1175.8L1593.7 1176.5L1595.3 1176.3L1596.9 1176.5L1598.6 1178.9L1600.2 1180.0L1605.2 1179.7L1608.4 1181.7L1610.1 1182.4L1613.4 1186.7L1615.0 1187.7L1616.6 1187.5L1618.3 1186.8L1619.9 1187.7L1623.2 1192.2L1624.9 1193.7L1626.5 1194.4L1628.1 1193.5L1629.8 1194.1L1631.4 1197.8L1633.1 1198.4L1634.7 1197.1L1638.0 1199.2L1639.6 1199.5L1641.3 1199.0L1642.9 1199.0L1647.8 1201.5L1651.1 1200.9L1652.8 1202.5L1654.4 1205.2L1656.1 1206.5L1659.3 1206.7L1662.6 1207.8L1664.3 1207.7L1669.2 1209.2L1672.5 1210.8L1674.1 1210.1L1675.8 1210.4L1677.4 1211.3L1680.7 1211.5L1682.3 1212.3L1687.3 1216.6L1688.9 1216.2L1690.5 1216.3L1692.2 1215.8L1693.8 1215.7L1695.5 1218.0L1697.1 1218.1L1698.7 1216.7L1700.4 1216.7L1702.0 1218.3L1703.7 1220.9L1705.3 1221.5L1708.6 1220.4L1710.2 1220.2L1713.5 1222.3L1720.1 1225.4L1723.4 1226.1L1725.0 1226.9L1726.7 1228.7L1728.3 1229.1L1729.9 1227.9L1731.6 1228.2L1733.2 1229.6L1734.9 1230.3L1738.2 1229.4L1739.8 1230.2L1741.4 1230.5L1746.4 1232.5L1748.0 1232.8L1749.6 1232.0L1751.3 1232.4L1752.9 1234.2L1754.6 1234.3L1756.2 1232.4L1757.9 1232.6L1759.5 1234.6L1761.1 1235.7L1764.4 1235.5L1766.1 1235.8L1767.7 1237.2L1769.4 1238.0L1771.0 1237.6L1772.6 1236.0L1774.3 1235.7L1775.9 1237.2L1779.2 1237.3L1780.8 1239.1L1782.5 1239.8L1784.1 1238.6L1787.4 1239.1L1789.1 1238.6L1792.3 1241.7L1794.0 1240.9L1795.6 1239.5L1797.3 1238.9L1800.6 1240.9L1802.2 1240.6L1805.5 1242.4L1807.1 1242.1L1808.8 1241.1L1810.4 1239.3L1812.0 1239.3L1813.7 1242.2L1815.3 1243.7L1820.3 1243.0L1821.9 1241.8L1823.5 1241.7L1826.8 1245.1L1828.5 1244.2L1830.1 1241.4L1831.7 1241.2L1833.4 1243.9L1835.0 1244.5L1838.3 1240.8L1840.0 1240.8L1841.6 1241.4L1843.2 1241.5L1844.9 1242.1L1846.5 1241.9L1848.2 1240.9L1851.5 1243.8L1853.1 1244.3L1854.7 1244.3L1856.4 1242.8L1858.0 1242.2L1859.7 1242.8L1862.9 1240.0L1866.2 1244.1L1869.5 1244.2L1871.2 1244.8L1872.8 1244.8L1876.1 1242.9L1879.4 1242.9L1881.0 1241.3L1882.7 1240.7L1884.3 1242.0L1885.9 1242.4L1889.2 1241.7L1890.9 1241.1L1892.5 1241.7L1894.1 1243.7L1895.8 1243.2L1897.4 1241.2L1899.1 1241.5L1900.7 1242.8L1904.0 1243.4L1905.6 1244.1L1908.9 1244.3L1912.2 1243.7L1913.8 1243.8L1920.4 1241.7L1922.1 1241.7L1930.3 1244.4L1931.9 1244.0L1933.6 1243.2L1935.2 1243.2L1936.8 1243.9L1938.5 1243.9L1940.1 1243.3L1943.4 1243.8L1945.0 1243.3L1946.7 1243.2L1948.3 1244.3L1950.0 1246.0L1951.6 1246.4L1954.9 1245.1L1956.5 1243.4L1958.2 1243.5L1959.8 1246.2L1961.5 1246.3L1963.1 1243.9L1964.8 1242.7L1968.0 1243.5L1969.7 1243.3L1973.0 1242.1L1976.2 1245.4L1979.5 1244.8L1982.8 1245.3L1984.5 1245.4L1987.7 1244.3L1991.0 1246.1L1992.7 1245.7L1995.9 1242.4L1999.2 1242.8L2002.5 1246.3L2004.2 1245.8L2005.8 1246.0L2007.4 1247.0L2010.7 1244.3L2012.4 1245.7L2014.0 1245.6L2015.7 1243.7L2017.3 1244.5L2018.9 1246.3L2022.2 1245.6L2025.5 1244.6L2027.1 1245.3L2030.4 1244.7L2032.1 1246.3L2033.7 1246.1L2035.4 1245.4L2037.0 1246.1"/>
<path stroke="#0c5478" d="M293.2 -186.5L300.7 -76.6L307.3 -0.3L331.0 239.2L336.9 284.2L343.8 325.9L348.4 349.3L351.3 357.4L352.3 358.3L353.3 357.4L357.6 345.1L367.7 303.4L373.0 282.4L379.6 263.6L401.2 210.6L407.8 190.7L411.1 183.8L412.1 183.0L413.1 183.5L415.0 187.8L420.6 209.6L454.1 377.4L467.2 450.3L473.8 492.1L483.7 567.3L493.5 650.3L505.0 737.7L509.9 764.9L514.9 785.8L519.8 801.9L526.4 819.1L532.9 833.4L539.5 844.3L544.4 851.3L549.3 856.3L557.6 862.0L567.4 865.9L577.3 868.1L590.4 870.0L598.6 872.2L608.5 876.1L610.1 876.6L615.0 876.4L621.6 877.3L628.2 876.6L631.4 877.1L636.4 875.8L641.3 875.4L644.6 874.2L651.2 873.7L652.8 873.8L654.4 874.3L659.4 878.3L664.3 884.8L670.9 893.0L680.7 907.9L698.8 932.1L707.0 945.5L725.0 981.6L730.0 992.6L738.2 1008.3L748.0 1024.7L756.2 1036.0L759.5 1039.7L764.5 1047.3L769.4 1052.4L784.2 1073.0L787.4 1076.8L792.4 1083.1L800.6 1092.0L802.2 1094.3L807.1 1099.3L810.4 1102.6L818.6 1110.4L828.5 1118.1L831.8 1120.3L836.7 1124.6L841.6 1127.8L844.9 1130.1L848.2 1131.8L853.1 1135.3L856.4 1136.1L863.0 1141.3L869.5 1145.1L874.5 1148.7L881.0 1154.4L884.3 1157.5L900.7 1174.6L908.9 1181.5L913.9 1185.9L918.8 1189.9L930.3 1198.9L933.6 1201.8L938.5 1205.0L945.1 1210.9L951.6 1214.0L958.2 1216.5L961.5 1217.8L964.8 1218.6L969.7 1219.0L973.0 1217.9L976.3 1217.8L981.2 1215.6L986.1 1212.3L989.4 1211.6L996.0 1213.7L999.3 1215.7L1007.5 1222.0L1010.8 1223.6L1020.6 1225.7L1027.2 1225.9L1032.1 1226.6L1038.7 1226.4L1041.9 1227.1L1046.9 1226.6L1048.5 1226.1L1060.0 1227.4L1063.3 1226.6L1068.2 1226.8L1081.4 1226.4L1083.0 1226.6L1086.3 1225.7L1087.9 1225.9L1091.2 1226.9L1092.8 1226.7L1096.1 1224.9L1099.4 1225.4L1104.3 1224.0L1109.3 1223.1L1114.2 1224.7L1115.8 1224.8L1119.1 1223.5L1122.4 1223.6L1125.7 1222.9L1130.6 1223.0L1132.3 1223.6L1133.9 1223.7L1135.5 1223.3L1138.8 1223.2L1143.8 1222.5L1147.0 1222.7L1155.2 1222.1L1158.5 1222.9L1161.8 1221.8L1165.1 1222.3L1170.0 1221.7L1173.3 1221.9L1175.0 1221.2L1178.2 1221.3L1181.5 1220.5L1184.8 1220.9L1186.4 1220.5L1189.7 1221.3L1191.4 1220.8L1197.9 1220.9L1204.5 1219.4L1207.8 1220.1L1209.4 1220.0L1212.7 1219.1L1216.0 1219.5L1217.6 1218.9L1222.6 1218.2L1225.9 1218.9L1227.5 1219.0L1230.8 1217.7L1234.1 1218.0L1240.6 1216.4L1243.9 1217.3L1247.2 1217.1L1248.8 1216.1L1250.5 1215.8L1252.1 1216.1L1257.0 1215.0L1260.3 1216.5L1263.6 1215.9L1268.5 1214.4L1270.2 1214.5L1271.8 1214.2L1273.5 1213.4L1278.4 1212.8L1280.0 1213.3L1281.7 1212.6L1283.3 1211.1L1286.6 1212.0L1291.5 1211.1L1296.5 1208.8L1298.1 1208.6L1299.7 1209.2L1301.4 1208.5L1303.0 1207.0L1306.3 1205.2L1309.6 1205.2L1312.9 1203.9L1314.5 1202.8L1316.2 1201.0L1317.8 1200.3L1319.4 1200.6L1321.1 1200.5L1322.7 1199.8L1324.4 1200.2L1326.0 1201.0L1327.7 1200.0L1329.3 1198.3L1332.6 1197.5L1335.9 1195.2L1339.1 1195.3L1340.8 1194.7L1344.1 1191.7L1345.7 1191.2L1347.4 1192.1L1349.0 1192.6L1352.3 1189.9L1358.9 1188.2L1362.1 1188.9L1363.8 1188.2L1365.4 1186.9L1367.1 1186.2L1368.7 1186.3L1372.0 1184.3L1376.9 1184.2L1378.6 1184.8L1380.2 1184.7L1385.1 1181.7L1386.8 1182.0L1388.4 1181.4L1390.1 1180.2L1393.3 1179.1L1395.0 1179.3L1396.6 1180.5L1398.3 1180.5L1401.5 1177.5L1403.2 1177.2L1406.5 1175.6L1408.1 1176.5L1409.8 1176.5L1413.0 1175.4L1414.7 1174.2L1416.3 1173.5L1418.0 1173.7L1421.2 1174.9L1422.9 1174.9L1426.2 1175.3L1429.5 1172.3L1432.7 1173.3L1436.0 1171.9L1437.7 1170.7L1439.3 1170.2L1441.0 1171.1L1442.6 1170.6L1444.2 1169.5L1449.2 1170.2L1450.8 1168.9L1452.4 1166.5L1454.1 1165.5L1455.7 1166.0L1457.4 1165.3L1459.0 1163.9L1460.7 1163.2L1462.3 1163.0L1463.9 1162.4L1465.6 1162.3L1467.2 1163.0L1468.9 1163.1L1470.5 1163.8L1472.2 1163.7L1475.4 1161.0L1477.1 1158.6L1478.7 1157.2L1480.4 1157.6L1482.0 1157.5L1485.3 1156.4L1486.9 1155.4L1488.6 1154.9L1491.9 1155.5L1495.1 1153.2L1498.4 1151.8L1500.1 1151.5L1501.7 1151.8L1503.3 1153.0L1505.0 1153.0L1506.6 1151.4L1509.9 1150.3L1511.6 1149.3L1513.2 1149.9L1514.8 1151.0L1516.5 1150.6L1518.1 1149.2L1519.8 1149.1L1523.1 1152.2L1528.0 1150.9L1529.6 1151.1L1531.3 1152.3L1534.5 1151.9L1536.2 1152.9L1539.5 1155.7L1541.1 1156.4L1542.8 1156.2L1544.4 1155.2L1546.0 1156.1L1547.7 1157.8L1549.3 1158.6L1551.0 1160.9L1552.6 1162.1L1554.3 1159.7L1555.9 1159.8L1557.5 1163.0L1559.2 1164.1L1560.8 1164.2L1564.1 1167.4L1570.7 1171.1L1575.6 1175.8L1578.9 1177.2L1580.5 1179.2L1582.2 1180.0L1583.8 1179.9L1587.1 1181.4L1588.7 1182.6L1590.4 1184.8L1592.0 1185.7L1593.7 1186.1L1595.3 1187.5L1598.6 1187.9L1601.9 1191.0L1611.7 1194.2L1613.4 1194.3L1616.6 1196.3L1618.3 1196.7L1623.2 1199.4L1624.9 1201.6L1626.5 1202.3L1628.1 1201.5L1631.4 1203.6L1633.1 1203.0L1636.4 1202.2L1638.0 1202.6L1639.6 1204.5L1644.6 1208.6L1647.8 1208.8L1652.8 1211.2L1654.4 1210.1L1656.1 1210.3L1657.7 1212.4L1659.3 1212.0L1661.0 1211.0L1662.6 1212.6L1664.3 1214.9L1665.9 1215.1L1667.5 1213.3L1669.2 1213.4L1670.8 1215.6L1672.5 1216.7L1675.8 1217.2L1677.4 1216.9L1679.0 1217.7L1680.7 1217.6L1682.3 1216.7L1685.6 1218.8L1687.3 1218.5L1690.5 1220.0L1692.2 1220.4L1693.8 1221.2L1697.1 1220.2L1703.7 1225.1L1705.3 1224.7L1707.0 1223.7L1708.6 1223.7L1711.9 1226.2L1713.5 1226.9L1715.2 1226.7L1716.8 1226.1L1718.5 1226.0L1721.7 1228.6L1725.0 1229.5L1726.7 1230.8L1728.3 1232.6L1729.9 1233.2L1733.2 1231.0L1736.5 1231.0L1738.2 1231.4L1739.8 1232.3L1741.4 1232.1L1744.7 1233.3L1746.4 1233.5L1748.0 1235.4L1749.6 1236.4L1751.3 1235.5L1752.9 1235.0L1756.2 1238.1L1757.9 1237.4L1761.1 1233.7L1762.8 1234.4L1764.4 1236.9L1766.1 1238.3L1769.4 1238.8L1772.6 1238.2L1777.6 1239.6L1779.2 1239.3L1780.8 1238.1L1782.5 1238.6L1784.1 1240.3L1785.8 1240.8L1790.7 1238.7L1792.3 1238.6L1794.0 1240.1L1795.6 1240.7L1797.3 1239.0L1798.9 1238.6L1800.6 1239.2L1802.2 1240.4L1803.8 1242.4L1805.5 1242.8L1807.1 1241.7L1808.8 1241.4L1810.4 1242.5L1812.0 1242.0L1813.7 1240.4L1817.0 1241.3L1818.6 1241.2L1820.3 1242.3L1821.9 1242.5L1823.5 1242.0L1825.2 1242.0L1828.5 1243.2L1831.7 1243.3L1835.0 1242.1L1836.7 1242.0L1838.3 1242.8L1840.0 1243.2L1841.6 1241.9L1843.2 1242.2L1844.9 1243.9L1848.2 1242.7L1849.8 1244.1L1851.5 1243.9L1853.1 1242.9L1854.7 1243.5L1856.4 1243.0L1858.0 1241.9L1861.3 1245.2L1862.9 1246.0L1864.6 1245.6L1867.9 1241.3L1869.5 1241.6L1871.2 1242.7L1872.8 1241.4L1874.4 1241.5L1876.1 1242.5L1877.7 1242.2L1879.4 1242.7L1881.0 1244.5L1882.7 1245.6L1885.9 1243.8L1889.2 1243.7L1890.9 1243.2L1892.5 1243.4L1895.8 1243.3L1899.1 1244.4L1900.7 1244.3L1904.0 1245.5L1907.3 1243.2L1908.9 1242.7L1910.6 1243.4L1915.5 1246.8L1917.1 1245.3L1918.8 1242.3L1920.4 1241.3L1923.7 1242.8L1925.3 1242.9L1927.0 1243.9L1928.6 1245.6L1930.3 1244.9L1931.9 1242.6L1933.6 1242.1L1936.8 1244.3L1940.1 1245.1L1941.8 1246.1L1943.4 1246.2L1945.0 1245.0L1948.3 1243.7L1950.0 1242.3L1953.3 1244.3L1956.5 1244.9L1958.2 1243.8L1959.8 1243.6L1961.5 1244.1L1963.1 1243.2L1964.8 1242.9L1966.4 1244.6L1968.0 1244.5L1969.7 1242.9L1971.3 1242.7L1976.2 1244.8L1979.5 1244.4L1981.2 1244.8L1982.8 1244.6L1984.5 1243.3L1986.1 1244.5L1987.7 1246.5L1991.0 1246.2L1992.7 1246.6L1995.9 1245.5L1997.6 1245.3L2000.9 1247.2L2002.5 1245.8L2004.2 1244.9L2005.8 1245.5L2009.1 1244.4L2015.7 1246.2L2017.3 1246.0L2018.9 1244.5L2020.6 1243.9L2023.9 1245.3L2025.5 1247.0L2027.1 1247.5L2030.4 1244.3L2032.1 1244.6L2035.4 1246.8L2037.0 1246.1"/>
<path stroke="#e040ff" d="M293.2 -188.7L301.1 -75.9L307.6 -1.0L326.0 186.1L331.9 244.4L338.2 291.0L343.8 324.4L348.0 343.7L351.0 351.1L352.0 352.2L353.0 351.9L354.9 347.0L359.5 331.0L372.3 275.9L377.9 259.2L400.9 203.2L407.8 181.9L411.1 174.8L412.4 173.7L413.4 174.4L415.4 179.0L420.3 196.2L431.1 247.4L457.4 379.5L467.2 434.7L473.8 477.6L482.0 542.2L491.9 629.6L505.0 732.3L509.9 760.7L514.9 782.2L519.8 798.6L526.4 816.1L532.9 830.7L539.5 841.9L546.1 851.3L552.6 857.9L564.1 863.2L570.7 865.6L575.6 866.6L578.9 866.9L582.2 867.7L585.5 867.6L588.8 869.2L598.6 871.0L606.8 874.6L608.5 875.2L610.1 875.3L613.4 874.8L616.7 875.2L623.2 874.6L628.2 874.8L633.1 873.0L638.0 871.7L641.3 871.9L646.2 870.9L649.5 869.8L651.2 869.6L654.4 870.4L656.1 871.4L659.4 875.0L662.6 879.0L665.9 882.8L672.5 892.0L679.1 902.1L690.6 918.2L698.8 929.2L710.3 950.0L723.4 978.2L733.3 999.6L743.1 1018.3L756.2 1038.6L766.1 1052.1L780.9 1072.9L785.8 1079.9L797.3 1093.9L800.6 1098.3L808.8 1108.1L813.7 1112.1L818.6 1117.5L823.6 1121.3L828.5 1125.7L833.4 1129.5L836.7 1131.0L843.3 1135.6L846.5 1137.3L849.8 1139.9L853.1 1141.0L861.3 1146.6L864.6 1147.9L869.5 1151.3L872.8 1153.4L879.4 1158.4L890.9 1169.4L895.8 1175.1L899.1 1177.5L902.4 1180.8L908.9 1186.1L912.2 1188.9L913.9 1190.4L918.8 1193.2L922.1 1195.7L925.4 1198.1L933.6 1203.7L938.5 1207.5L945.1 1211.6L953.3 1215.4L956.6 1217.2L961.5 1218.6L966.4 1219.3L971.3 1218.8L974.6 1218.9L979.6 1217.8L984.5 1213.5L986.1 1212.5L989.4 1211.7L991.0 1211.7L994.3 1213.3L996.0 1213.7L997.6 1214.5L1002.5 1218.9L1005.8 1221.5L1007.5 1223.3L1009.1 1224.4L1014.0 1224.7L1017.3 1224.6L1025.5 1226.3L1028.8 1226.1L1030.5 1226.4L1033.7 1226.2L1038.7 1226.7L1045.2 1226.6L1046.9 1226.5L1050.2 1227.6L1051.8 1227.6L1053.4 1227.2L1060.0 1227.7L1071.5 1227.2L1073.1 1226.8L1076.4 1226.7L1081.4 1226.3L1084.6 1226.7L1087.9 1225.7L1091.2 1226.4L1097.8 1224.6L1099.4 1224.5L1102.7 1225.0L1104.3 1224.2L1106.0 1224.0L1110.9 1224.5L1114.2 1223.6L1119.1 1223.6L1122.4 1224.2L1129.0 1223.5L1132.3 1224.1L1133.9 1223.6L1135.5 1223.6L1137.2 1224.4L1140.5 1224.8L1142.1 1224.8L1147.0 1223.3L1150.3 1223.2L1152.0 1222.8L1155.2 1223.3L1158.5 1224.2L1160.2 1224.3L1163.5 1223.8L1165.1 1224.0L1168.4 1223.4L1171.7 1223.7L1173.3 1223.5L1175.0 1222.7L1176.6 1222.4L1178.2 1222.9L1179.9 1223.0L1181.5 1222.6L1183.2 1222.8L1184.8 1223.5L1186.4 1223.8L1189.7 1222.5L1193.0 1222.0L1196.3 1222.7L1197.9 1222.4L1204.5 1223.4L1207.8 1222.7L1211.1 1223.2L1214.4 1222.3L1217.6 1222.9L1219.3 1222.8L1220.9 1222.0L1224.2 1221.6L1225.9 1221.1L1230.8 1221.7L1234.1 1221.1L1237.3 1221.5L1247.2 1220.5L1253.8 1221.2L1258.7 1219.8L1262.0 1220.5L1265.3 1219.5L1271.8 1219.9L1275.1 1219.2L1278.4 1219.2L1280.0 1218.1L1281.7 1217.8L1283.3 1218.6L1285.0 1218.3L1286.6 1217.0L1288.2 1216.5L1291.5 1217.8L1294.8 1215.6L1296.5 1215.8L1299.7 1215.4L1301.4 1216.8L1303.0 1216.7L1304.7 1214.7L1306.3 1214.2L1308.0 1214.5L1311.2 1213.1L1316.2 1213.1L1319.4 1212.0L1322.7 1209.9L1326.0 1211.1L1329.3 1208.6L1339.1 1207.9L1342.4 1206.9L1344.1 1207.8L1345.7 1207.9L1347.4 1206.1L1349.0 1205.2L1352.3 1204.3L1355.6 1204.7L1360.5 1202.0L1362.1 1201.6L1363.8 1202.6L1365.4 1202.6L1367.1 1202.0L1370.3 1203.1L1373.6 1200.7L1380.2 1200.3L1383.5 1200.6L1386.8 1198.4L1388.4 1198.3L1390.1 1199.3L1391.7 1198.1L1393.3 1196.1L1395.0 1196.4L1396.6 1198.1L1398.3 1198.9L1403.2 1196.8L1404.8 1196.4L1406.5 1196.7L1408.1 1197.9L1409.8 1198.6L1411.4 1198.6L1413.0 1198.0L1414.7 1196.5L1416.3 1194.3L1418.0 1192.7L1421.2 1194.3L1422.9 1194.1L1424.5 1194.8L1426.2 1194.4L1427.8 1193.2L1429.5 1193.1L1431.1 1193.8L1432.7 1195.0L1434.4 1195.6L1439.3 1193.3L1441.0 1192.9L1444.2 1193.7L1445.9 1192.8L1447.5 1193.3L1449.2 1194.4L1450.8 1193.9L1454.1 1189.5L1455.7 1189.6L1457.4 1190.6L1459.0 1190.1L1460.7 1190.0L1462.3 1190.9L1463.9 1191.2L1468.9 1190.8L1472.2 1188.4L1473.8 1187.9L1477.1 1185.0L1480.4 1184.4L1482.0 1183.2L1483.6 1182.6L1485.3 1183.0L1486.9 1184.2L1488.6 1184.9L1490.2 1184.4L1496.8 1181.0L1498.4 1180.5L1500.1 1179.5L1501.7 1180.0L1506.6 1183.0L1508.3 1181.0L1509.9 1179.8L1511.6 1181.2L1513.2 1181.2L1514.8 1179.4L1518.1 1180.6L1519.8 1179.9L1523.1 1181.5L1524.7 1181.3L1526.3 1181.5L1529.6 1180.5L1532.9 1182.1L1536.2 1180.8L1539.5 1182.0L1541.1 1181.7L1542.8 1181.9L1546.0 1184.6L1547.7 1184.5L1549.3 1184.9L1551.0 1187.0L1552.6 1188.4L1555.9 1186.7L1559.2 1188.1L1564.1 1191.4L1565.7 1192.0L1567.4 1192.1L1569.0 1193.1L1572.3 1196.7L1577.2 1198.4L1578.9 1198.6L1580.5 1200.3L1582.2 1200.8L1583.8 1200.0L1585.4 1200.6L1587.1 1202.3L1590.4 1203.8L1593.7 1208.3L1595.3 1207.9L1596.9 1206.1L1598.6 1206.6L1600.2 1208.5L1601.9 1208.9L1605.2 1209.0L1606.8 1208.1L1608.4 1207.7L1611.7 1211.0L1615.0 1212.8L1619.9 1213.2L1621.6 1213.0L1623.2 1213.7L1624.9 1213.9L1626.5 1213.6L1628.1 1215.0L1631.4 1213.8L1633.1 1215.2L1636.4 1214.8L1638.0 1217.2L1639.6 1218.7L1641.3 1217.6L1644.6 1218.7L1646.2 1218.6L1651.1 1220.0L1656.1 1222.6L1657.7 1222.9L1659.3 1222.9L1661.0 1222.4L1662.6 1222.4L1665.9 1221.7L1669.2 1225.6L1670.8 1225.0L1672.5 1223.7L1674.1 1222.9L1675.8 1222.8L1680.7 1225.7L1682.3 1226.3L1684.0 1225.3L1685.6 1225.1L1688.9 1227.0L1690.5 1227.6L1695.5 1228.5L1698.7 1226.5L1700.4 1226.6L1703.7 1229.3L1707.0 1229.8L1710.2 1232.1L1711.9 1232.6L1713.5 1232.2L1715.2 1232.4L1716.8 1233.4L1718.5 1233.7L1721.7 1231.9L1723.4 1232.2L1726.7 1231.6L1728.3 1232.5L1731.6 1235.6L1733.2 1236.7L1736.5 1235.3L1738.2 1235.3L1739.8 1233.9L1741.4 1233.8L1744.7 1236.1L1746.4 1237.8L1748.0 1238.5L1751.3 1237.3L1752.9 1237.8L1754.6 1237.4L1756.2 1236.0L1759.5 1237.3L1761.1 1237.3L1764.4 1239.0L1766.1 1240.2L1767.7 1240.1L1769.4 1238.9L1772.6 1241.9L1774.3 1242.0L1775.9 1240.8L1777.6 1238.6L1779.2 1238.1L1782.5 1238.0L1787.4 1241.2L1790.7 1241.5L1792.3 1241.6L1794.0 1241.1L1795.6 1239.9L1797.3 1240.0L1798.9 1241.9L1800.6 1242.8L1802.2 1241.2L1803.8 1240.5L1805.5 1241.9L1807.1 1242.8L1808.8 1241.5L1810.4 1241.6L1812.0 1243.0L1815.3 1243.5L1818.6 1240.4L1823.5 1242.4L1825.2 1241.3L1826.8 1239.4L1828.5 1240.1L1830.1 1242.2L1831.7 1242.9L1835.0 1240.2L1838.3 1241.5L1840.0 1243.0L1841.6 1243.3L1843.2 1242.0L1844.9 1242.4L1846.5 1243.8L1849.8 1244.0L1851.5 1244.4L1853.1 1244.0L1854.7 1242.2L1856.4 1241.4L1859.7 1242.5L1861.3 1242.6L1864.6 1241.3L1866.2 1241.4L1869.5 1244.0L1871.2 1244.9L1874.4 1244.3L1876.1 1244.5L1877.7 1243.8L1879.4 1242.0L1881.0 1243.1L1882.7 1245.5L1884.3 1245.9L1885.9 1245.0L1887.6 1243.2L1889.2 1242.6L1890.9 1243.4L1892.5 1243.3L1894.1 1242.8L1895.8 1241.7L1897.4 1241.4L1902.4 1243.3L1904.0 1244.4L1905.6 1244.7L1907.3 1243.8L1908.9 1243.7L1910.6 1244.0L1912.2 1244.0L1915.5 1245.0L1918.8 1243.0L1920.4 1242.7L1922.1 1243.1L1923.7 1244.9L1925.3 1245.6L1927.0 1244.0L1928.6 1243.4L1930.3 1243.8L1933.6 1242.2L1935.2 1242.5L1938.5 1244.9L1940.1 1245.6L1941.8 1244.7L1943.4 1243.1L1945.0 1243.2L1946.7 1245.1L1948.3 1246.0L1950.0 1245.1L1951.6 1245.0L1953.3 1246.7L1954.9 1245.5L1956.5 1242.5L1958.2 1243.3L1959.8 1245.3L1961.5 1244.6L1963.1 1243.3L1964.8 1243.5L1966.4 1244.7L1968.0 1244.9L1969.7 1244.0L1973.0 1243.5L1976.2 1244.1L1977.9 1243.6L1982.8 1245.1L1987.7 1245.3L1989.4 1244.1L1991.0 1242.4L1992.7 1241.6L1995.9 1243.5L1999.2 1242.8L2002.5 1244.5L2007.4 1244.3L2010.7 1244.4L2014.0 1247.4L2015.7 1247.0L2017.3 1245.7L2018.9 1246.2L2020.6 1247.8L2022.2 1247.7L2025.5 1245.6L2027.1 1245.4L2028.8 1246.6L2030.4 1246.9L2033.7 1245.0L2035.4 1244.8L2037.0 1245.4"/>
</g>
<rect x="231.2" y="42.2" width="1804.8" height="1214.3" stroke-width="4" stroke="#000" fill="none"/>
<text x="125.0" y="1272.9" font-size="58">0.0</text>
<text x="125.0" y="1086.1" font-size="58">0.</text><text x="175.1" y="1086.1" font-size="58" clip-path="url(#k1)">1</text>
<text x="125.0" y="899.2" font-size="58">0.2</text>
<text x="125.0" y="712.3" font-size="58">0.3</text>
<text x="125.0" y="525.5" font-size="58">0.4</text>
<text x="125.0" y="338.6" font-size="58">0.5</text>
<text x="125.0" y="151.8" font-size="58">0.6</text>
<text x="230.8" y="1326.4" font-size="58" text-anchor="middle">200</text>
<text x="559.2" y="1326.4" font-size="58" text-anchor="middle">300</text>
<text x="887.6" y="1326.4" font-size="58" text-anchor="middle">400</text>
<text x="1216.0" y="1326.4" font-size="58" text-anchor="middle">500</text>
<text x="1544.4" y="1326.4" font-size="58" text-anchor="middle">600</text>
<text x="1872.8" y="1326.4" font-size="58" text-anchor="middle">700</text>
<text x="848.6" y="1437.4" font-size="69">Wavelength (nm)</text>
<text transform="translate(71.3 829.1) rotate(-90)" font-size="69">Absorption</text>
<text x="369.0" y="139.5" font-size="52.5">255</text>
<text x="609.4" y="840.9" font-size="52.5">328</text>
<text x="826.2" y="870.9" font-size="52.5">35</text><text x="886.2" y="870.9" font-size="52.5" clip-path="url(#k2)">1</text>
<text x="944.6" y="1167.0" font-size="52.5">43</text><text x="1004.6" y="1167.0" font-size="52.5" clip-path="url(#k3)">1</text>
<text x="1483.5" y="871.0" font-size="52.5">594</text>
<text x="446.8" y="231.8" font-size="84" clip-path="url(#k4)">1</text>
<text x="1739.2" y="867.6" font-size="84">2</text>
<text x="1717.9" y="1127.4" font-size="84" clip-path="url(#k5)">1</text><text x="1762.1" y="1127.4" font-size="84">0</text>
<line x1="827.7" y1="880.9" x2="752" y2="961" stroke="#000" stroke-width="3.8"/>
<path d="M732.7 982 L756.7 940.6 L759.3 952 L773.2 955 Z" fill="#000"/>
<line x1="1761" y1="886" x2="1761" y2="1035" stroke="#000" stroke-width="3.4"/>
<path d="M1761 1053 L1749.3 1021.3 L1761 1033 L1772.8 1021.3 Z" fill="#000"/>
<g stroke="#000" fill="none">
<path stroke-width="3" d="M1112.6 69.5V662.6H1993"/>
<path stroke-width="2.6" d="M1113 567.2H1119.0M1113 471.8H1124.5M1113 376.4H1119.0M1113 281.0H1124.5M1113 185.6H1119.0M1113 90.2H1124.5M1112.6 661.5V650.0M1192.6 661.5V655.5M1272.6 661.5V650.0M1352.6 661.5V655.5M1432.6 661.5V650.0M1512.6 661.5V655.5M1592.6 661.5V650.0M1672.6 661.5V655.5M1752.6 661.5V650.0M1832.6 661.5V655.5M1912.6 661.5V650.0M1992.6 661.5V655.5"/>
</g>
<g clip-path="url(#ci)" fill="none" stroke-linejoin="round" stroke-linecap="round">
<path stroke="#ff2828" stroke-width="3.0" d="M1125.4 -180.9L1137.7 -29.8L1147.5 77.9L1157.2 176.1L1163.8 251.1L1168.8 306.7L1173.4 345.0L1185.4 428.9L1192.1 465.4L1195.6 482.7L1198.8 492.5L1202.7 500.4L1205.6 504.4L1209.2 507.9L1211.8 509.4L1217.6 510.5L1225.9 511.5L1229.1 512.6L1237.4 517.3L1245.1 519.4L1248.9 519.7L1250.8 518.9L1256.6 514.3L1264.3 505.4L1272.6 494.0L1279.6 483.6L1291.2 469.2L1298.8 458.1L1304.6 452.4L1308.4 449.8L1314.2 447.9L1317.4 447.5L1319.3 448.1L1326.4 454.0L1334.0 460.2L1338.5 464.3L1344.3 467.3L1347.5 468.1L1352.6 467.7L1357.1 466.6L1360.9 464.0L1368.0 457.8L1373.7 452.5L1385.2 443.7L1391.0 441.2L1394.2 440.8L1397.4 441.6L1402.5 444.3L1405.1 446.7L1409.6 453.0L1413.4 459.6L1418.5 471.2L1425.6 489.9L1432.0 510.6L1437.1 531.0L1444.8 567.2L1454.4 615.9L1456.9 625.4L1460.1 633.6L1462.7 638.3L1466.5 642.8L1470.4 645.6L1476.1 648.3L1483.8 650.5L1494.0 652.3L1511.3 653.4L1524.1 653.1L1541.4 651.5L1552.9 649.2L1564.4 645.8L1570.2 643.1L1578.5 637.5L1591.3 627.6L1599.0 620.4L1605.4 612.8L1611.8 603.3L1617.6 592.7L1622.0 582.5L1633.6 549.7L1641.9 526.7L1650.2 499.2L1663.0 453.7L1672.6 414.9L1688.0 349.2L1698.2 310.7L1708.4 276.1L1719.3 243.0L1737.9 192.8L1742.4 183.4L1746.8 176.0L1750.0 172.3L1753.2 169.8L1755.8 169.0L1757.7 169.2L1759.6 170.1L1761.6 172.0L1764.1 176.1L1767.3 183.7L1771.2 196.6L1776.3 218.7L1780.8 245.1L1807.6 412.3L1813.4 442.5L1825.6 500.2L1832.0 526.0L1837.7 545.2L1853.7 591.1L1860.8 609.0L1867.2 622.3L1874.8 635.5L1879.3 641.9L1883.2 645.9L1888.9 650.2L1894.7 653.4L1902.4 656.1L1910.7 657.9L1923.5 659.5L1943.3 659.7L1992.6 659.7"/>
<path stroke="#1f60e0" stroke-width="3.0" d="M1125.4 -166.1L1134.2 -55.9L1141.1 14.5L1156.9 165.0L1168.3 280.5L1173.6 322.4L1186.8 418.3L1194.2 462.8L1196.9 474.7L1199.3 481.9L1202.0 487.0L1205.2 490.5L1208.6 492.7L1211.8 493.7L1219.5 494.0L1226.5 496.1L1234.2 500.0L1238.7 502.2L1241.2 502.8L1244.4 502.2L1247.6 500.8L1250.2 498.4L1254.0 492.8L1259.8 481.4L1273.2 451.0L1280.3 435.1L1289.2 418.3L1295.6 406.5L1299.5 401.9L1303.3 398.7L1305.9 397.5L1308.4 397.1L1311.6 397.7L1314.2 399.1L1316.8 401.7L1319.3 406.7L1332.1 438.2L1337.2 451.0L1348.1 471.6L1356.4 484.2L1360.9 489.3L1367.3 495.1L1376.3 501.2L1380.8 503.3L1385.2 505.1L1394.8 511.3L1404.4 519.5L1411.5 527.9L1417.2 536.4L1426.2 552.0L1432.6 565.4L1438.4 580.2L1445.4 601.1L1455.0 631.0L1457.6 636.4L1460.8 641.4L1464.0 644.7L1468.4 647.7L1474.8 650.2L1483.8 652.2L1496.0 653.9L1513.2 654.9L1529.9 654.4L1545.9 653.1L1560.0 650.8L1568.3 648.7L1577.2 645.1L1592.0 637.8L1600.9 632.2L1608.0 626.5L1614.4 620.0L1620.1 612.7L1625.2 604.3L1633.6 589.5L1641.9 575.3L1650.8 556.9L1663.6 528.7L1674.5 501.3L1688.0 465.9L1698.8 440.8L1709.7 418.3L1720.6 398.3L1737.9 369.9L1743.0 363.5L1747.5 359.3L1751.3 357.0L1754.5 355.9L1757.7 355.9L1760.3 356.9L1762.8 359.0L1766.0 363.1L1769.2 368.9L1774.4 381.4L1778.2 393.4L1808.3 509.1L1814.7 529.4L1825.6 561.5L1832.6 579.0L1838.4 590.7L1853.7 617.9L1860.8 628.8L1867.8 637.7L1876.1 646.3L1881.2 650.3L1887.6 653.6L1895.3 656.3L1905.6 658.3L1922.2 659.9L1954.2 660.1L1992.6 660.1"/>
<path stroke="#23a060" stroke-width="3.0" d="M1125.4 -159.4L1133.6 -56.0L1138.8 -2.8L1152.8 121.7L1168.0 268.0L1173.7 312.7L1188.0 417.2L1194.4 457.5L1197.2 470.3L1199.3 476.5L1201.7 481.1L1204.9 484.1L1208.6 486.1L1211.8 486.5L1218.8 486.3L1225.2 488.5L1235.5 493.6L1239.3 495.4L1241.2 495.6L1243.8 494.8L1247.0 492.8L1249.6 489.9L1253.4 483.4L1258.5 471.3L1279.6 414.9L1287.3 397.8L1295.0 382.1L1297.6 378.6L1301.4 375.0L1304.6 373.2L1307.2 372.9L1310.4 373.9L1312.3 374.9L1314.8 377.7L1316.8 380.9L1319.3 387.8L1331.5 426.8L1336.6 443.6L1349.4 476.2L1358.4 496.0L1366.0 509.7L1373.1 520.1L1378.8 527.1L1385.9 533.8L1392.9 541.3L1409.6 558.4L1416.6 566.6L1427.5 581.3L1433.9 591.4L1441.6 606.5L1455.0 636.6L1457.6 640.6L1461.4 644.9L1465.2 647.6L1470.4 650.0L1478.7 652.1L1493.4 654.2L1512.6 655.5L1530.5 655.2L1548.4 653.9L1564.4 651.6L1573.4 649.4L1591.3 643.0L1600.9 638.6L1608.6 634.0L1615.6 628.6L1621.4 622.9L1635.5 605.3L1643.2 595.6L1658.5 572.3L1668.1 556.2L1688.6 517.9L1700.1 499.0L1711.6 482.3L1721.9 469.0L1737.9 450.5L1743.0 446.0L1748.1 442.8L1752.6 441.2L1756.4 440.8L1759.6 441.4L1762.8 443.2L1766.7 447.0L1770.5 452.5L1775.6 462.2L1779.5 471.7L1808.9 553.1L1817.2 571.7L1826.2 590.6L1833.2 603.0L1839.6 612.2L1853.7 630.0L1861.4 638.5L1869.1 645.2L1877.4 651.1L1883.2 654.0L1891.5 656.6L1901.7 658.5L1916.4 659.8L1933.1 660.2L1992.6 660.3"/>
<path stroke="#b070e8" stroke-width="3.0" d="M1125.4 -154.8L1133.4 -52.8L1138.0 -6.7L1149.9 93.5L1167.2 254.6L1173.1 300.7L1181.7 364.9L1189.6 422.8L1195.0 456.7L1198.0 469.4L1200.3 474.9L1202.2 477.8L1205.6 480.3L1208.6 481.5L1211.8 481.6L1218.8 481.1L1224.0 483.0L1239.3 490.5L1241.2 490.7L1243.8 489.6L1247.0 487.0L1250.2 482.5L1254.0 474.7L1263.0 449.4L1279.0 401.9L1286.0 384.3L1294.4 365.8L1296.3 362.7L1300.1 358.7L1303.3 356.7L1305.2 356.1L1307.8 356.5L1311.6 358.6L1314.2 361.7L1316.8 366.6L1320.0 377.3L1331.5 420.2L1336.6 439.6L1351.3 483.4L1359.6 505.6L1367.3 523.2L1373.7 535.6L1378.8 544.0L1385.9 553.2L1391.6 561.3L1401.9 573.4L1419.2 590.8L1430.7 603.3L1437.1 611.6L1444.8 623.5L1455.0 640.5L1458.2 644.1L1462.0 647.2L1467.2 649.8L1473.6 651.7L1485.1 653.7L1504.9 655.6L1517.1 656.0L1542.0 655.1L1560.0 653.5L1570.8 651.7L1590.0 646.7L1601.6 642.7L1610.5 638.4L1618.2 633.7L1624.0 629.1L1635.5 618.4L1643.8 610.6L1661.7 590.5L1672.6 576.5L1689.2 553.8L1701.4 539.4L1713.6 526.8L1723.8 517.4L1738.5 505.4L1744.3 502.0L1749.4 500.0L1754.5 499.1L1758.4 499.3L1761.6 500.4L1765.4 502.8L1769.2 506.5L1775.0 514.1L1778.8 520.7L1808.9 581.8L1818.5 597.6L1826.8 610.3L1833.9 619.3L1842.2 627.8L1855.0 639.5L1862.7 645.4L1871.0 650.5L1879.3 654.5L1887.0 656.7L1897.2 658.5L1912.0 659.8L1932.4 660.3L1992.6 660.4"/>
<path stroke="#cc9200" stroke-width="3.0" d="M1125.4 -151.3L1133.2 -50.9L1137.6 -8.3L1148.9 83.9L1166.0 240.6L1172.4 290.6L1180.9 353.4L1189.7 420.0L1195.0 453.7L1198.0 466.6L1200.3 472.2L1202.0 474.8L1205.6 477.1L1208.6 478.1L1212.4 477.8L1218.2 477.2L1220.8 477.8L1236.1 485.4L1239.3 486.9L1241.2 487.1L1243.2 486.1L1246.4 483.5L1248.9 479.9L1252.8 472.4L1256.6 461.8L1279.0 391.0L1286.0 372.3L1294.4 352.8L1296.3 349.6L1300.1 345.8L1303.3 343.9L1305.2 343.5L1307.8 344.1L1311.6 346.7L1314.2 350.3L1316.8 355.9L1320.0 367.9L1331.5 415.2L1336.6 436.5L1353.9 493.6L1362.2 518.2L1369.9 538.0L1376.3 551.8L1380.8 559.6L1386.5 568.8L1391.6 577.1L1399.3 587.4L1404.4 593.0L1414.7 602.4L1433.9 619.0L1442.8 628.6L1455.0 643.4L1459.5 646.9L1464.0 649.4L1470.4 651.6L1480.6 653.5L1499.2 655.4L1513.9 656.4L1538.8 655.8L1559.3 654.4L1572.1 652.7L1593.9 648.1L1605.4 644.7L1615.6 640.6L1623.3 636.3L1643.8 622.4L1663.0 606.8L1677.1 593.4L1689.9 580.9L1702.7 570.0L1716.1 560.1L1727.6 553.0L1739.2 546.4L1746.2 543.8L1752.6 542.6L1757.7 542.7L1761.6 543.6L1766.0 545.9L1770.5 549.3L1776.3 555.3L1782.0 563.4L1809.6 604.0L1823.6 620.7L1832.0 629.0L1839.0 634.7L1853.1 644.2L1862.7 649.6L1872.9 654.0L1881.2 656.6L1892.8 658.6L1908.8 659.9L1933.7 660.4L1992.6 660.5"/>
<path stroke="#18d0d0" stroke-width="3.0" d="M1125.4 -148.8L1133.1 -50.0L1137.1 -10.4L1148.4 79.1L1165.1 229.4L1172.3 285.4L1180.4 345.8L1190.0 419.5L1195.2 452.2L1198.2 465.1L1200.6 470.7L1202.2 472.8L1205.9 474.9L1208.6 475.6L1213.1 475.0L1218.2 474.3L1220.1 474.7L1236.8 483.1L1239.3 484.3L1241.2 484.4L1243.2 483.3L1246.4 480.3L1248.9 476.5L1253.4 466.9L1259.8 447.0L1278.4 385.0L1285.4 365.0L1294.4 343.2L1296.3 340.0L1300.1 336.3L1303.3 334.4L1305.2 334.2L1307.8 335.0L1311.6 338.0L1314.2 341.9L1316.8 348.0L1320.0 361.0L1330.8 408.5L1336.6 434.3L1346.8 471.0L1358.4 510.8L1367.3 538.0L1373.7 554.7L1378.8 565.8L1387.2 580.9L1392.3 589.8L1399.3 599.9L1403.8 605.1L1411.5 612.0L1423.0 620.5L1436.4 629.6L1445.4 637.0L1455.6 646.0L1461.4 649.2L1468.4 651.6L1478.0 653.5L1497.2 655.5L1513.2 656.6L1539.5 656.1L1561.9 654.7L1577.9 652.8L1598.4 649.2L1610.5 646.0L1620.8 642.4L1644.4 630.8L1664.3 619.1L1683.5 605.8L1696.9 597.0L1711.6 588.8L1723.8 583.1L1739.2 577.1L1746.8 575.3L1754.5 574.6L1759.6 575.1L1764.8 576.7L1770.5 579.9L1776.9 584.8L1804.4 614.2L1811.5 621.3L1825.6 633.3L1834.5 639.5L1846.7 645.9L1860.1 651.8L1871.0 655.3L1881.2 657.7L1895.3 659.3L1915.8 660.3L1992.6 660.6"/>
<path stroke="#7a4848" stroke-width="3.0" d="M1125.4 -146.7L1133.1 -47.7L1136.9 -10.0L1143.6 40.8L1149.2 85.4L1164.3 220.4L1172.3 282.1L1180.3 341.3L1190.5 420.7L1195.2 450.4L1198.2 463.5L1200.4 468.8L1202.0 471.0L1205.7 472.9L1208.6 473.5L1218.2 471.9L1220.1 472.4L1233.6 479.1L1239.3 482.1L1241.2 482.2L1243.2 481.0L1246.4 477.8L1249.6 472.5L1253.4 463.7L1259.8 442.8L1278.4 378.5L1285.4 357.8L1293.7 336.7L1295.6 333.1L1298.2 330.2L1301.4 327.7L1304.0 326.6L1305.9 326.7L1308.4 328.0L1311.6 330.8L1313.6 333.8L1316.1 339.6L1318.7 349.3L1330.8 405.3L1336.0 429.8L1356.4 506.9L1366.0 539.2L1372.4 557.9L1378.2 572.0L1391.0 597.2L1396.8 606.4L1402.5 614.0L1408.9 620.0L1416.6 625.6L1424.9 630.4L1439.6 637.9L1456.3 647.9L1464.0 650.9L1472.3 652.9L1488.3 654.9L1512.6 656.8L1540.1 656.4L1564.4 655.1L1588.8 652.4L1605.4 649.7L1619.5 646.4L1645.7 637.6L1667.5 628.7L1694.4 616.3L1710.4 610.1L1723.8 605.9L1739.8 602.0L1748.8 600.9L1757.1 600.9L1762.8 601.9L1769.2 604.2L1776.9 608.2L1802.5 627.0L1812.1 633.9L1826.2 642.2L1836.4 647.1L1850.5 652.0L1864.0 655.6L1878.7 658.3L1894.7 659.7L1920.3 660.4L1992.6 660.6"/>
<path stroke="#8a8a00" stroke-width="3.0" d="M1125.4 -145.1L1132.9 -47.7L1136.6 -11.3L1142.2 30.9L1148.0 74.0L1164.0 216.1L1172.6 281.7L1180.1 337.5L1190.8 421.2L1195.3 449.8L1198.4 462.7L1200.8 468.0L1202.2 469.7L1206.0 471.5L1208.6 471.9L1218.2 470.1L1220.1 470.5L1231.6 476.5L1236.8 479.2L1239.3 480.4L1241.2 480.4L1243.2 479.2L1246.4 475.8L1249.6 470.2L1253.4 461.1L1260.4 437.3L1278.4 373.4L1285.4 352.1L1293.7 330.6L1295.6 326.8L1298.2 324.0L1301.4 321.5L1304.0 320.5L1305.9 320.7L1308.4 322.2L1311.6 325.2L1313.6 328.3L1316.1 334.4L1318.7 344.6L1330.8 402.8L1336.0 428.3L1346.8 471.3L1359.0 518.4L1368.0 549.3L1374.4 568.2L1379.5 580.8L1391.0 604.7L1396.8 614.4L1401.9 621.4L1407.0 626.5L1413.4 631.3L1421.7 635.9L1432.0 639.8L1446.0 644.9L1457.6 649.5L1468.4 652.5L1480.0 654.2L1511.3 656.9L1536.3 656.7L1564.4 655.5L1595.8 652.7L1615.6 649.9L1641.2 644.5L1669.4 637.4L1698.8 629.1L1719.3 624.7L1739.8 621.8L1751.3 621.4L1759.6 622.0L1768.0 623.7L1777.6 627.0L1802.5 638.8L1814.0 644.2L1829.4 650.0L1841.6 653.4L1856.9 656.5L1874.2 658.7L1893.4 659.9L1926.0 660.5L1992.6 660.7"/>
<path stroke="#0000ff" stroke-width="3.4" d="M1125.4 -189.3L1145.7 -4.5L1160.0 122.3L1172.0 228.7L1189.2 358.6L1196.0 415.0L1197.7 420.8L1198.5 421.7L1202.4 421.2L1203.8 419.7L1211.8 406.5L1215.0 402.2L1216.3 401.3L1219.5 401.1L1221.4 403.0L1223.3 405.9L1228.4 418.6L1232.9 433.0L1238.0 455.8L1241.2 472.9L1241.9 474.8L1242.5 475.4L1243.2 474.9L1244.4 471.7L1267.5 401.1L1283.5 350.5L1288.6 331.3L1291.8 315.2L1296.9 286.2L1298.8 278.3L1302.0 269.0L1304.6 263.8L1307.2 260.6L1309.1 259.3L1312.3 258.3L1313.6 258.4L1315.5 259.7L1318.0 262.9L1320.0 267.0L1323.2 277.6L1325.7 288.5L1328.9 308.5L1336.6 368.0L1347.5 458.7L1353.2 499.2L1359.0 533.1L1362.2 546.6L1366.7 560.7L1373.7 579.5L1381.4 596.8L1395.5 625.5L1405.1 644.0L1408.3 648.8L1413.4 654.4L1416.6 656.7L1423.0 659.3L1428.8 660.5L1440.3 661.4L1559.3 661.6L1992.6 661.6"/>
<path stroke="#000000" stroke-width="4.2" d="M1125.4 -143.6L1132.9 -46.1L1136.6 -10.0L1142.0 30.2L1147.6 71.0L1163.5 210.7L1173.1 282.7L1180.3 336.5L1191.2 421.9L1195.5 449.3L1198.4 461.5L1200.8 466.8L1202.2 468.5L1206.0 470.1L1208.6 470.4L1217.6 468.4L1219.5 468.6L1231.6 474.9L1236.8 477.6L1239.3 478.8L1241.2 478.8L1243.2 477.5L1246.4 473.9L1249.6 468.1L1253.4 458.7L1260.4 434.2L1278.4 368.6L1285.4 346.8L1293.7 324.8L1295.6 321.1L1298.2 318.3L1301.4 315.8L1304.0 314.9L1305.9 315.1L1308.4 316.7L1311.6 319.9L1313.6 323.2L1316.1 329.6L1318.7 340.2L1330.8 400.5L1336.0 426.8L1346.2 468.8L1359.0 520.6L1368.0 553.2L1374.4 573.2L1379.5 586.4L1391.0 611.7L1396.1 620.8L1401.9 629.0L1406.4 633.5L1412.1 637.8L1419.2 641.5L1425.6 643.8L1437.7 646.3L1472.3 653.5L1492.1 655.6L1513.2 657.1L1549.1 656.6L1583.6 654.8L1610.5 652.6L1672.6 645.9L1708.4 641.8L1725.1 640.6L1744.3 640.3L1759.6 641.2L1778.2 644.2L1801.2 649.5L1819.2 653.8L1839.6 657.3L1854.4 658.7L1882.5 660.0L1924.8 660.6L1992.6 660.7"/>
</g>
<text x="1098.9" y="481.4" font-size="35.8" text-anchor="end">0.2</text>
<text x="1098.9" y="290.6" font-size="35.8" text-anchor="end">0.4</text>
<text x="1098.9" y="99.8" font-size="35.8" text-anchor="end">0.6</text>
<text x="1112.6" y="704.5" font-size="36" text-anchor="middle">200</text>
<text x="1272.6" y="704.5" font-size="36" text-anchor="middle">300</text>
<text x="1432.6" y="704.5" font-size="36" text-anchor="middle">400</text>
<text x="1592.6" y="704.5" font-size="36" text-anchor="middle">500</text>
<text x="1752.6" y="704.5" font-size="36" text-anchor="middle">600</text>
<text x="1912.6" y="704.5" font-size="36" text-anchor="middle">700</text>
<text x="1373.5" y="768.5" font-size="48">Wavelength (nm)</text>
<text transform="translate(1021.6 469.8) rotate(-90)" font-size="48">Absorption</text>
<text x="1729.5" y="159.0" font-size="33.5">602</text>
<text x="1289.4" y="243.3" font-size="33.5">326</text>
<text x="1199.7" y="386.9" font-size="33.5">267</text>
<text x="1365.5" y="428.4" font-size="33.5">374</text>
<text x="1338.4" y="323.0" font-size="60" clip-path="url(#k6)">1</text>
<text x="1369.2" y="318.6" font-size="50">`</text>
<text x="1644.7" y="267.1" font-size="60">2</text>
<text x="1678.4" y="261.3" font-size="50">`</text>
<text x="1856.5" y="343.3" font-size="60">3</text>
<text x="1889.4" y="337.8" font-size="50">`</text>
<text x="1841.5" y="499.0" font-size="60" clip-path="url(#k7)">1</text><text x="1873.1" y="499.0" font-size="60">0</text>
<text x="1906.3" y="494.2" font-size="50">`</text>
<line x1="1874.2" y1="352.7" x2="1874.2" y2="428" stroke="#5a5a5a" stroke-width="2.5"/>
<path d="M1874.2 438.2 L1868 422 L1874.2 427.9 L1880.2 422 Z" fill="#000"/>
<defs><clipPath id="k1" clipPathUnits="userSpaceOnUse"><rect x="173.1" y="1016.5" width="34.8" height="63.5"/><rect x="189.7" y="1079.0" width="5.1" height="9.1"/></clipPath><clipPath id="k2" clipPathUnits="userSpaceOnUse"><rect x="884.2" y="807.9" width="31.5" height="57.5"/><rect x="899.4" y="864.4" width="4.6" height="8.5"/></clipPath><clipPath id="k3" clipPathUnits="userSpaceOnUse"><rect x="1002.6" y="1104.0" width="31.5" height="57.5"/><rect x="1017.8" y="1160.5" width="4.6" height="8.5"/></clipPath><clipPath id="k4" clipPathUnits="userSpaceOnUse"><rect x="444.8" y="131.0" width="50.4" height="92.0"/><rect x="467.9" y="222.0" width="7.3" height="11.8"/></clipPath><clipPath id="k5" clipPathUnits="userSpaceOnUse"><rect x="1715.9" y="1026.6" width="50.4" height="92.0"/><rect x="1739.0" y="1117.6" width="7.3" height="11.8"/></clipPath><clipPath id="k6" clipPathUnits="userSpaceOnUse"><rect x="1336.4" y="251.0" width="36.0" height="65.7"/><rect x="1353.5" y="315.7" width="5.2" height="9.3"/></clipPath><clipPath id="k7" clipPathUnits="userSpaceOnUse"><rect x="1839.5" y="427.0" width="36.0" height="65.7"/><rect x="1856.6" y="491.7" width="5.2" height="9.3"/></clipPath></defs>
</svg>
</body></html>
